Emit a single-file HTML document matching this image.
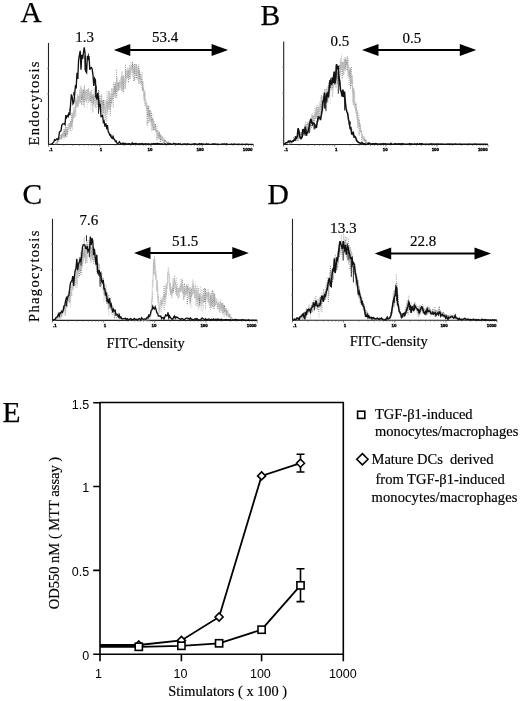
<!DOCTYPE html>
<html><head><meta charset="utf-8"><style>
html,body{margin:0;padding:0;background:#fff;width:520px;height:701px;overflow:hidden;}
svg{display:block;will-change:transform;}
text{fill:#000;}
.s{stroke:#000;stroke-width:0.18;}
</style></head><body>
<svg width="520" height="701" viewBox="0 0 520 701">
<path d="M48.5 43 V144.5 H253.5" fill="none" stroke="#222" stroke-width="1.1"/>
<path d="M48.5 144.5 v2.2 M63.9 144.5 v1.2 M73.0 144.5 v1.2 M79.4 144.5 v1.2 M84.3 144.5 v1.2 M88.4 144.5 v1.2 M91.8 144.5 v1.2 M94.8 144.5 v1.2 M97.4 144.5 v1.2 M99.8 144.5 v2.2 M115.2 144.5 v1.2 M124.2 144.5 v1.2 M130.6 144.5 v1.2 M135.6 144.5 v1.2 M139.6 144.5 v1.2 M143.1 144.5 v1.2 M146.0 144.5 v1.2 M148.7 144.5 v1.2 M151.0 144.5 v2.2 M166.4 144.5 v1.2 M175.5 144.5 v1.2 M181.9 144.5 v1.2 M186.8 144.5 v1.2 M190.9 144.5 v1.2 M194.3 144.5 v1.2 M197.3 144.5 v1.2 M199.9 144.5 v1.2 M202.2 144.5 v2.2 M217.7 144.5 v1.2 M226.7 144.5 v1.2 M233.1 144.5 v1.2 M238.1 144.5 v1.2 M242.1 144.5 v1.2 M245.6 144.5 v1.2 M248.5 144.5 v1.2 M251.2 144.5 v1.2 M253.5 144.5 v2.2" stroke="#555" stroke-width="0.8"/>
<path d="M47.0 68.4 h1.5 M47.0 93.8 h1.5 M47.0 119.1 h1.5" stroke="#888" stroke-width="0.8"/>
<text x="49.0" y="150.8" font-family="'Liberation Sans', sans-serif" font-weight="bold" font-size="4.4" text-anchor="start" fill="#000" stroke="#000" stroke-width="0.35">.1</text>
<text x="101.0" y="150.8" font-family="'Liberation Sans', sans-serif" font-weight="bold" font-size="4.4" text-anchor="middle" fill="#000" stroke="#000" stroke-width="0.35">1</text>
<text x="150.0" y="150.8" font-family="'Liberation Sans', sans-serif" font-weight="bold" font-size="4.4" text-anchor="middle" fill="#000" stroke="#000" stroke-width="0.35">10</text>
<text x="200.1" y="150.8" font-family="'Liberation Sans', sans-serif" font-weight="bold" font-size="4.4" text-anchor="middle" fill="#000" stroke="#000" stroke-width="0.35">100</text>
<text x="252.5" y="150.8" font-family="'Liberation Sans', sans-serif" font-weight="bold" font-size="4.4" text-anchor="end" fill="#000" stroke="#000" stroke-width="0.35">1000</text>
<path d="M55.2 144.0V144.6M56.3 142.8V143.4M57.1 142.0V142.6M57.9 140.9V143.3M58.6 139.1V141.5M59.3 138.7V140.5M61.4 135.6V139.0M62.1 134.7V136.9M62.0 134.4V138.1M62.7 134.5V136.9M64.3 130.6V135.2M64.0 129.1V134.3M64.8 132.7V136.2M65.4 124.5V136.2M66.9 127.2V137.1M72.3 117.2V123.0M73.3 113.2V117.8M74.5 110.1V114.7M75.9 100.5V106.5M76.6 103.4V105.1M77.2 100.6V106.7M78.9 96.2V103.8M81.6 92.2V99.2M81.6 95.0V104.8M82.5 92.0V98.1M83.1 95.3V105.2M82.9 92.4V100.8M83.6 89.9V100.4M83.8 90.4V101.7M85.9 92.6V99.8M88.6 88.6V96.0M89.9 95.3V101.5M90.5 93.9V102.2M92.0 96.9V98.3M92.6 95.3V106.0M93.4 94.3V104.0M96.3 97.8V101.0M97.8 95.5V106.4M98.3 99.1V101.4M98.5 90.0V101.8M99.8 96.0V107.2M101.3 94.5V111.8M103.1 101.3V113.8M103.4 99.9V112.8M108.2 103.1V105.0M108.8 91.4V110.3M108.8 101.4V107.2M109.6 97.3V103.4M110.3 98.1V115.6M111.0 93.8V103.8M112.3 94.2V99.4M114.6 86.8V94.8M115.3 83.9V98.0M116.0 86.3V91.1M117.9 83.0V86.5M118.1 85.7V88.9M121.7 81.3V90.8M122.1 78.8V84.1M123.1 75.9V91.4M123.1 77.1V89.6M127.7 71.2V76.5M128.4 70.6V82.6M129.1 70.8V72.6M129.1 71.6V76.5M129.9 65.5V79.9M132.5 61.9V69.8M134.1 67.7V72.4M134.7 64.3V73.4M136.2 64.4V78.1M138.5 66.2V73.7M139.6 71.5V79.2M142.5 81.9V89.9M143.1 87.9V91.4M144.6 92.4V100.9M147.2 107.9V125.5M148.2 107.2V123.5M148.9 106.2V114.9M149.4 110.8V116.5M150.3 110.4V119.1M151.5 112.9V122.7M152.5 119.3V126.2M153.8 125.0V130.5M155.1 124.6V129.2M155.6 124.1V132.0M157.1 130.5V140.0M158.7 133.2V138.6M160.2 134.6V141.8M160.1 135.9V138.3M160.7 136.5V141.1M164.3 139.8V143.0M164.9 140.6V141.5M165.4 140.6V142.0M167.5 142.0V143.3M168.5 142.3V143.8M174.0 144.1V144.7M173.9 143.9V144.5" stroke="#4a4a4a" stroke-width="0.8" stroke-dasharray="1 1.1" fill="none"/><path d="M55.7 143.1V143.7M56.6 142.8V143.4M57.0 140.1V143.9M59.8 137.4V138.9M60.8 135.1V138.6M62.5 135.3V136.3M64.8 131.1V134.9M65.5 127.7V138.2M66.4 128.9V133.7M66.7 129.9V135.0M67.5 129.2V135.3M68.2 124.9V133.4M69.0 123.5V128.7M69.7 122.9V126.5M69.9 125.6V126.7M70.3 121.3V130.9M70.6 121.7V125.0M71.7 114.7V126.3M71.9 112.8V127.2M75.1 107.0V116.5M78.0 95.6V100.9M80.9 96.2V98.4M81.1 88.2V98.7M84.4 86.7V107.9M85.0 91.3V94.7M87.2 89.6V99.5M87.9 90.8V99.7M89.2 92.6V100.2M90.2 93.8V99.2M91.4 95.3V103.8M91.3 93.4V102.2M92.8 96.5V98.5M93.5 97.4V104.0M94.8 95.7V102.6M96.2 91.1V100.0M96.9 96.2V104.6M97.8 99.0V105.3M99.0 90.8V109.5M99.8 101.0V110.0M100.5 100.5V112.6M101.4 100.4V104.5M102.7 100.7V108.9M104.0 107.1V108.6M104.1 103.9V114.4M106.8 101.4V121.8M107.3 97.3V107.2M107.7 102.7V113.7M110.2 98.0V109.5M111.8 97.2V103.8M113.2 89.6V107.3M113.1 93.6V98.9M114.0 83.9V93.4M113.9 82.3V95.6M115.4 85.2V92.0M116.0 82.6V93.8M116.6 69.8V98.8M118.5 83.2V91.2M118.7 82.1V90.8M121.0 76.7V85.2M122.3 77.5V86.0M123.7 78.3V93.1M125.6 71.3V78.4M125.5 64.8V88.0M127.7 72.8V79.0M132.1 63.2V74.1M133.6 65.2V82.0M134.1 69.2V82.1M134.7 64.5V80.4M136.3 65.3V75.7M138.4 69.8V84.0M139.5 69.8V80.0M140.4 74.1V80.6M141.0 74.5V83.8M142.0 72.3V90.5M141.8 79.0V84.9M144.0 93.1V97.8M147.3 105.6V115.6M149.5 114.0V121.7M151.0 116.7V121.1M152.3 119.3V124.1M153.1 118.2V129.5M153.8 121.5V129.1M154.4 126.9V130.1M156.5 130.8V132.5M158.0 130.3V136.1M159.4 133.0V136.8M159.4 132.1V138.6M160.9 134.7V139.4M161.4 137.3V138.7M162.6 137.6V141.8M164.1 139.4V143.0M164.8 141.0V141.6M165.6 140.5V142.3M166.8 142.1V142.7M167.2 141.6V142.5M169.1 142.9V143.5M169.2 142.7V143.6M169.6 142.6V144.0M169.8 143.2V143.8M170.3 143.4V144.3M171.1 143.3V144.3M171.8 143.7V144.3M172.4 143.4V144.3M174.8 144.1V144.7M174.5 143.8V144.4" stroke="#7e7e7e" stroke-width="0.8" stroke-dasharray="1 1.1" fill="none"/><path d="M55.0 143.8V144.4M55.7 143.3V143.9M57.6 141.0V143.7M58.4 140.4V141.0M59.1 138.9V141.1M60.0 138.8V139.4M60.7 137.7V139.0M61.4 136.5V140.7M63.5 134.3V134.9M63.5 133.0V137.4M66.2 130.4V132.8M67.6 128.4V132.1M71.2 122.2V127.5M70.9 122.0V131.5M72.5 113.8V129.7M73.2 107.3V122.1M73.8 113.3V115.3M75.5 106.3V110.6M76.0 98.1V116.6M76.6 100.6V105.7M77.3 99.4V106.8M78.1 100.4V105.9M78.6 96.5V101.5M79.6 89.8V102.2M79.4 97.1V101.4M80.0 93.2V103.3M82.1 91.3V97.7M84.3 88.0V98.3M85.0 91.4V102.0M85.8 90.4V94.7M86.4 89.9V98.4M86.5 90.1V99.3M90.8 91.8V110.0M92.2 95.4V103.0M94.1 96.1V100.3M94.0 87.4V103.2M95.1 89.1V98.4M95.7 97.9V107.7M95.8 97.0V98.4M96.8 97.3V102.2M99.1 95.9V106.6M100.5 102.0V107.6M102.0 102.2V106.7M101.9 96.0V112.2M102.7 101.4V111.8M104.6 104.2V119.8M105.6 106.7V119.6M105.5 108.4V120.1M106.0 102.6V108.9M107.0 90.8V108.0M109.7 99.3V104.8M111.6 88.6V106.8M114.7 87.2V92.7M116.5 78.9V90.3M117.4 83.6V91.6M117.3 81.1V96.3M119.5 80.3V89.8M119.3 83.0V87.8M120.2 82.4V90.2M119.9 82.8V87.4M120.9 78.3V86.3M124.5 78.9V88.7M125.1 70.0V82.7M126.3 76.0V82.6M126.5 70.3V76.7M127.2 75.2V76.6M127.3 72.1V76.6M128.6 72.4V80.8M130.0 68.7V75.0M130.5 68.0V71.7M131.2 65.0V69.1M131.1 65.4V71.9M132.1 67.9V76.9M132.6 67.3V73.4M135.7 68.9V77.5M136.7 66.9V79.5M136.8 71.2V79.7M137.7 71.3V72.9M137.6 68.7V81.4M138.9 70.6V79.4M139.0 63.7V78.6M140.3 76.8V81.9M142.5 85.3V91.4M143.3 88.0V91.8M143.7 84.9V100.5M144.6 90.2V106.5M145.2 99.9V102.8M146.0 100.3V107.7M146.6 103.5V110.0M146.7 103.4V108.4M148.2 105.1V116.9M148.9 112.9V116.8M150.3 117.4V121.9M150.9 110.9V125.1M151.5 120.1V126.1M153.0 114.4V129.7M155.6 127.7V131.3M157.0 126.2V139.3M157.8 132.8V138.3M158.8 131.3V139.8M162.1 138.4V140.4M162.2 139.1V141.3M162.7 138.9V140.7M163.7 139.9V141.3M163.3 137.7V142.9M166.4 141.5V143.8M166.5 141.9V142.8M168.5 141.6V143.6M170.6 143.3V144.1M171.3 142.9V143.9M171.8 142.9V143.8M172.7 143.9V144.5M173.3 144.0V144.6" stroke="#a8a8a8" stroke-width="0.8" stroke-dasharray="1 1.1" fill="none"/><path d="M68.4 124.5V129.9M69.1 124.4V130.9M73.8 107.9V116.2M74.8 108.3V117.5M80.3 96.5V101.4M87.3 91.8V107.8M88.0 89.2V103.7M88.6 95.1V96.6M89.4 95.0V97.4M104.6 108.5V109.8M106.1 106.6V109.1M108.2 93.9V105.4M110.9 95.3V99.3M112.3 95.3V99.6M121.7 76.4V84.1M123.7 78.8V88.8M124.4 76.1V84.8M125.2 78.5V86.6M130.5 62.4V72.3M133.3 67.9V79.2M135.5 70.1V75.8M140.9 75.8V85.6M145.3 98.7V106.3M146.1 102.8V108.4M154.3 126.3V127.6M155.2 125.3V130.3M156.4 131.4V132.9M161.3 137.6V139.1M167.9 142.7V144.3M173.2 143.3V144.3" stroke="#cccccc" stroke-width="0.8" stroke-dasharray="1 1.1" fill="none"/><path d="M55.0 143.8 L55.5 143.0 L56.0 143.0 L56.5 144.2 L57.0 141.9 L57.5 141.3 L58.0 140.2 L58.5 139.7 L59.0 138.1 L59.5 137.5 L60.0 138.7 L60.5 136.7 L61.0 134.2 L61.5 134.9 L62.0 135.6 L62.5 132.7 L63.0 138.1 L63.5 131.5 L64.0 134.4 L64.5 138.4 L65.0 131.6 L65.5 128.1 L66.0 133.1 L66.5 130.5 L67.0 129.1 L67.5 130.1 L68.0 128.6 L68.5 127.3 L69.0 128.4 L69.5 124.2 L70.0 128.5 L70.5 127.7 L71.0 122.4 L71.5 119.8 L72.0 121.1 L72.5 117.9 L73.0 114.7 L73.5 111.2 L74.0 117.9 L74.5 111.0 L75.0 113.1 L75.5 97.0 L76.0 107.9 L76.5 106.3 L77.0 103.9 L77.5 94.0 L78.0 107.5 L78.5 103.3 L79.0 102.2 L79.5 96.9 L80.0 90.8 L80.5 103.0 L81.0 85.8 L81.5 96.9 L82.0 96.0 L82.5 89.2 L83.0 101.5 L83.5 92.8 L84.0 98.8 L84.5 85.0 L85.0 97.7 L85.5 98.0 L86.0 102.2 L86.5 102.5 L87.0 89.4 L87.5 90.5 L88.0 94.9 L88.5 103.1 L89.0 101.6 L89.5 94.2 L90.0 91.5 L90.5 91.3 L91.0 95.3 L91.5 89.7 L92.0 96.2 L92.5 112.5 L93.0 111.7 L93.5 104.4 L94.0 102.1 L94.5 97.6 L95.0 106.7 L95.5 97.6 L96.0 108.1 L96.5 98.2 L97.0 99.7 L97.5 93.4 L98.0 98.6 L98.5 96.7 L99.0 108.6 L99.5 109.1 L100.0 103.9 L100.5 106.4 L101.0 103.2 L101.5 105.0 L102.0 105.9 L102.5 113.9 L103.0 105.4 L103.5 111.3 L104.0 106.5 L104.5 106.0 L105.0 100.1 L105.5 116.1 L106.0 106.5 L106.5 100.5 L107.0 111.2 L107.5 109.1 L108.0 101.2 L108.5 101.5 L109.0 107.7 L109.5 91.2 L110.0 100.4 L110.5 98.9 L111.0 99.1 L111.5 101.1 L112.0 87.8 L112.5 99.2 L113.0 91.4 L113.5 89.3 L114.0 96.9 L114.5 90.9 L115.0 90.1 L115.5 82.4 L116.0 89.6 L116.5 88.5 L117.0 76.8 L117.5 91.4 L118.0 91.2 L118.5 87.1 L119.0 84.6 L119.5 81.7 L120.0 82.3 L120.5 83.4 L121.0 88.1 L121.5 77.8 L122.0 71.3 L122.5 89.3 L123.0 75.1 L123.5 79.7 L124.0 80.9 L124.5 83.5 L125.0 81.1 L125.5 89.2 L126.0 76.5 L126.5 79.3 L127.0 71.7 L127.5 67.8 L128.0 75.8 L128.5 73.4 L129.0 67.8 L129.5 73.1 L130.0 78.9 L130.5 75.8 L131.0 67.0 L131.5 67.0 L132.0 67.0 L132.5 68.9 L133.0 72.8 L133.5 73.0 L134.0 71.4 L134.5 67.0 L135.0 69.9 L135.5 67.0 L136.0 67.0 L136.5 70.1 L137.0 67.0 L137.5 67.0 L138.0 77.6 L138.5 75.1 L139.0 83.2 L139.5 84.0 L140.0 79.7 L140.5 82.5 L141.0 82.3 L141.5 83.1 L142.0 82.4 L142.5 88.3 L143.0 80.9 L143.5 94.4 L144.0 95.3 L144.5 99.3 L145.0 91.7 L145.5 105.1 L146.0 101.8 L146.5 108.6 L147.0 110.8 L147.5 113.9 L148.0 111.4 L148.5 108.8 L149.0 113.9 L149.5 119.1 L150.0 120.8 L150.5 115.5 L151.0 117.8 L151.5 128.6 L152.0 131.2 L152.5 121.2 L153.0 126.9 L153.5 127.0 L154.0 121.4 L154.5 125.8 L155.0 127.9 L155.5 126.9 L156.0 127.4 L156.5 131.5 L157.0 133.9 L157.5 136.9 L158.0 132.2 L158.5 133.8 L159.0 137.4 L159.5 137.2 L160.0 138.2 L160.5 136.5 L161.0 138.5 L161.5 136.4 L162.0 141.6 L162.5 135.9 L163.0 138.3 L163.5 140.9 L164.0 141.8 L164.5 142.1 L165.0 140.6 L165.5 141.3 L166.0 142.0 L166.5 142.8 L167.0 142.3 L167.5 142.9 L168.0 143.3 L168.5 142.1 L169.0 142.1 L169.5 143.5 L170.0 143.0 L170.5 143.8 L171.0 143.3 L171.5 144.3 L172.0 143.7 L172.5 143.7 L173.0 144.0 L173.5 144.2 L174.0 144.1 L174.5 144.2 L175.0 144.3" fill="none" stroke="#bdbdbd" stroke-width="0.6"/><path d="M49.0 144.3 L49.8 144.3 L50.6 144.3 L51.4 143.9 L52.2 143.9 L53.0 142.7 L53.8 141.9 L54.6 139.7 L55.4 140.4 L56.2 139.4 L57.0 138.7 L57.8 139.7 L58.6 138.7 L59.4 132.2 L60.2 131.3 L61.0 130.8 L61.8 125.2 L62.6 123.8 L63.4 123.8 L64.2 123.6 L65.0 124.6 L65.8 115.4 L66.6 117.3 L67.4 115.5 L68.2 116.5 L69.0 112.5 L69.8 115.1 L70.6 103.8 L71.4 94.4 L72.2 97.2 L73.0 103.8 L73.8 102.3 L74.6 94.9 L75.4 86.4 L76.2 87.3 L77.0 72.7 L77.8 79.0 L78.6 59.8 L79.4 55.1 L80.2 50.9 L81.0 69.6 L81.8 54.9 L82.6 58.8 L83.4 53.2 L84.2 47.3 L85.0 52.5 L85.8 71.4 L86.6 72.6 L87.4 55.8 L88.2 60.1 L89.0 56.0 L89.8 69.7 L90.6 67.7 L91.4 67.5 L92.2 69.3 L93.0 75.3 L93.8 86.0 L94.6 78.5 L95.4 79.9 L96.2 96.1 L97.0 99.6 L97.8 92.8 L98.6 99.1 L99.4 107.2 L100.2 103.8 L101.0 116.6 L101.8 116.4 L102.6 115.4 L103.4 122.3 L104.2 121.3 L105.0 126.6 L105.8 123.4 L106.6 127.5 L107.4 125.1 L108.2 131.5 L109.0 133.1 L109.8 135.0 L110.6 134.6 L111.4 137.2 L112.2 138.3 L113.0 136.4 L113.8 138.8 L114.6 139.7 L115.4 141.5 L116.2 141.0 L117.0 143.2 L117.8 143.5 L118.6 143.1 L119.4 141.8 L120.2 143.0 L121.0 143.7 L121.8 143.6 L122.6 143.2 L123.4 143.1 L124.2 144.3 L125.0 143.3 L125.8 143.5 L126.6 144.1 L127.4 143.9 L128.2 143.7 L129.0 143.9 L129.8 143.8 L130.6 144.2 L131.4 144.3 L132.2 142.9 L133.0 143.8 L133.8 143.7 L134.6 143.7 L135.4 143.4 L136.2 143.5 L137.0 144.2 L137.8 143.9 L138.6 143.8 L139.4 143.6 L140.2 144.1 L141.0 143.7 L141.8 143.8 L142.6 143.5 L143.4 144.3 L144.2 143.8 L145.0 143.8 L145.8 143.7 L146.6 143.9 L147.4 144.2 L148.2 143.7 L149.0 143.8 L149.8 144.2 L150.6 144.3 L151.4 143.7 L152.2 144.2 L153.0 143.7 L153.8 143.4 L154.6 143.9 L155.4 143.8 L156.2 143.9 L157.0 143.5 L157.8 143.5 L158.6 143.9 L159.4 143.7 L160.2 143.9 L161.0 144.1 L161.8 143.7 L162.6 144.0 L163.4 144.2 L164.2 144.3 L165.0 143.7 L165.8 144.3 L166.6 144.3 L167.4 144.0 L168.2 143.8 L169.0 144.3 L169.8 143.8 L170.6 143.9 L171.4 144.3 L172.2 144.3 L173.0 144.1 L173.8 143.4 L174.6 144.0 L175.4 143.7 L176.2 143.8 L177.0 144.3 L177.8 144.0 L178.6 143.8 L179.4 144.1 L180.2 143.7 L181.0 144.3 L181.8 144.3 L182.6 144.2 L183.4 143.9 L184.2 144.1 L185.0 143.8 L185.8 144.3 L186.6 144.2 L187.4 143.7 L188.2 144.3 L189.0 144.0 L189.8 144.3 L190.6 144.3 L191.4 144.1 L192.2 144.3 L193.0 143.9 L193.8 143.9 L194.6 143.8 L195.4 144.0 L196.2 144.3 L197.0 143.9 L197.8 144.3 L198.6 144.3 L199.4 143.6 L200.2 143.9 L201.0 144.0 L201.8 143.8 L202.6 144.2 L203.4 144.0 L204.2 144.3 L205.0 144.2 L205.8 144.1 L206.6 143.8 L207.4 144.3 L208.2 143.9 L209.0 144.1 L209.8 144.3 L210.6 144.3 L211.4 144.3 L212.2 143.9 L213.0 144.1 L213.8 143.8 L214.6 144.1 L215.4 143.9 L216.2 144.1 L217.0 144.3 L217.8 144.0 L218.6 144.3 L219.4 144.3 L220.2 144.3 L221.0 144.2 L221.8 144.1 L222.6 144.0 L223.4 144.1 L224.2 143.8 L225.0 144.3 L225.8 144.2 L226.6 143.8 L227.4 144.2 L228.2 144.3 L229.0 144.3 L229.8 144.3 L230.6 144.3 L231.4 144.0 L232.2 144.3 L233.0 144.3 L233.8 144.0 L234.6 144.2 L235.4 144.2 L236.2 144.3 L237.0 144.1 L237.8 144.3 L238.6 144.1 L239.4 144.2 L240.2 144.3 L241.0 144.3 L241.8 144.2 L242.6 144.2 L243.4 144.3 L244.2 144.3 L245.0 144.3 L245.8 144.2 L246.6 144.2 L247.4 144.2 L248.2 144.3 L249.0 144.3 L249.8 144.3 L250.6 144.3 L251.4 144.3 L252.2 144.3 L253.0 144.3" fill="none" stroke="#111" stroke-width="1.35"/><path d="M65.6 115.3V118.8M69.7 109.3V110.9M73.7 91.8V95.6M84.9 55.6V70.2M88.4 53.5V59.5M93.7 79.0V81.1M95.4 87.7V97.6M96.3 85.6V91.6M98.5 100.7V113.8M100.3 107.5V112.1M110.6 135.1V137.3" stroke="#151515" stroke-width="0.9" fill="none"/>
<path d="M283.7 41.5 V144.5 H488" fill="none" stroke="#222" stroke-width="1.1"/>
<path d="M283.7 144.5 v2.2 M299.1 144.5 v1.2 M308.1 144.5 v1.2 M314.5 144.5 v1.2 M319.4 144.5 v1.2 M323.4 144.5 v1.2 M326.9 144.5 v1.2 M329.8 144.5 v1.2 M332.4 144.5 v1.2 M334.8 144.5 v2.2 M350.2 144.5 v1.2 M359.1 144.5 v1.2 M365.5 144.5 v1.2 M370.5 144.5 v1.2 M374.5 144.5 v1.2 M377.9 144.5 v1.2 M380.9 144.5 v1.2 M383.5 144.5 v1.2 M385.9 144.5 v2.2 M401.2 144.5 v1.2 M410.2 144.5 v1.2 M416.6 144.5 v1.2 M421.5 144.5 v1.2 M425.6 144.5 v1.2 M429.0 144.5 v1.2 M432.0 144.5 v1.2 M434.6 144.5 v1.2 M436.9 144.5 v2.2 M452.3 144.5 v1.2 M461.3 144.5 v1.2 M467.7 144.5 v1.2 M472.6 144.5 v1.2 M476.7 144.5 v1.2 M480.1 144.5 v1.2 M483.1 144.5 v1.2 M485.7 144.5 v1.2 M488.0 144.5 v2.2" stroke="#555" stroke-width="0.8"/>
<path d="M282.2 67.2 h1.5 M282.2 93.0 h1.5 M282.2 118.8 h1.5" stroke="#888" stroke-width="0.8"/>
<text x="284.2" y="150.8" font-family="'Liberation Sans', sans-serif" font-weight="bold" font-size="4.4" text-anchor="start" fill="#000" stroke="#000" stroke-width="0.35">.1</text>
<text x="336.2" y="150.8" font-family="'Liberation Sans', sans-serif" font-weight="bold" font-size="4.4" text-anchor="middle" fill="#000" stroke="#000" stroke-width="0.35">1</text>
<text x="385.2" y="150.8" font-family="'Liberation Sans', sans-serif" font-weight="bold" font-size="4.4" text-anchor="middle" fill="#000" stroke="#000" stroke-width="0.35">10</text>
<text x="435.3" y="150.8" font-family="'Liberation Sans', sans-serif" font-weight="bold" font-size="4.4" text-anchor="middle" fill="#000" stroke="#000" stroke-width="0.35">100</text>
<text x="487.7" y="150.8" font-family="'Liberation Sans', sans-serif" font-weight="bold" font-size="4.4" text-anchor="end" fill="#000" stroke="#000" stroke-width="0.35">1000</text>
<path d="M288.8 143.9V144.5M291.3 141.1V143.7M294.6 139.3V140.6M296.1 138.1V139.9M297.4 137.1V138.2M298.1 134.7V138.2M298.1 135.6V141.4M301.7 131.8V136.7M302.3 129.8V138.1M303.7 131.0V135.7M304.2 130.5V136.3M305.2 126.2V134.1M305.2 124.6V133.5M307.4 122.4V128.6M307.9 123.9V129.2M309.9 122.3V125.4M311.5 120.7V127.5M311.5 118.8V127.4M311.9 114.8V124.4M314.2 115.9V129.5M314.3 115.8V120.0M316.4 107.6V117.1M318.4 110.5V115.4M320.7 104.2V107.6M321.8 96.3V104.7M321.8 103.9V107.5M324.7 89.5V99.1M325.6 94.9V101.2M325.5 96.2V102.5M326.2 89.1V97.6M326.2 94.0V104.4M326.6 94.0V96.0M328.2 86.7V98.7M329.4 87.4V91.5M329.8 87.3V90.6M331.2 84.8V86.2M332.4 80.5V89.5M333.1 75.5V82.0M333.0 78.3V89.0M336.5 70.8V78.9M336.7 74.2V79.1M337.2 72.6V79.1M337.5 71.5V84.1M339.2 65.3V68.3M339.4 65.8V69.1M340.8 58.4V71.9M342.3 62.6V78.8M345.2 57.4V66.8M345.7 59.8V70.7M346.3 62.7V64.6M346.9 62.3V65.0M347.2 56.4V70.0M349.1 70.9V73.5M349.7 70.0V77.9M350.5 75.4V77.0M350.5 68.6V89.1M351.3 67.1V82.2M352.2 79.9V84.0M352.6 87.4V90.8M353.3 88.8V105.4M354.0 91.4V97.9M355.5 104.0V108.8M356.2 103.6V113.0M359.1 119.9V135.4M364.6 139.7V140.8M365.3 140.3V143.3M365.5 139.9V142.1M366.8 142.4V143.9M367.5 142.8V143.4M368.3 142.1V143.3" stroke="#4a4a4a" stroke-width="0.8" stroke-dasharray="1 1.1" fill="none"/><path d="M289.6 143.5V144.1M289.8 143.5V144.1M290.3 142.7V143.4M291.2 141.6V143.0M292.4 140.6V142.3M293.4 140.4V142.3M293.8 137.0V140.5M294.8 136.0V141.5M296.6 137.4V140.2M296.7 136.5V138.1M297.6 135.5V140.9M299.5 135.3V137.6M299.6 133.7V137.7M300.3 133.3V135.1M300.7 132.1V136.0M303.0 130.2V134.9M303.6 130.9V132.7M306.0 126.7V132.1M306.4 124.1V135.7M307.3 126.7V136.7M308.5 123.1V129.1M308.4 123.8V129.7M310.6 120.0V131.3M312.7 115.9V124.6M313.5 116.1V127.9M313.3 115.8V124.2M315.0 111.5V117.5M315.6 113.0V118.8M316.2 112.6V117.1M317.1 105.1V116.2M317.9 107.0V119.4M319.1 108.8V115.9M321.4 95.2V106.4M322.8 100.8V107.1M323.9 97.5V106.1M327.6 90.8V100.9M330.2 84.5V89.2M331.0 83.1V86.7M331.6 78.2V88.0M333.7 75.8V82.3M342.2 62.3V67.5M343.6 63.4V75.0M344.2 58.9V70.0M345.6 62.3V68.5M346.4 60.4V63.1M347.9 57.9V75.8M349.1 67.3V85.2M351.2 76.6V86.1M352.1 83.1V87.5M356.4 109.2V110.3M357.7 110.5V122.8M357.8 112.9V120.7M359.7 123.1V125.9M360.5 125.9V131.2M361.0 131.3V132.2M361.0 130.9V132.0M361.7 130.6V143.9M364.0 136.6V140.0M364.6 138.4V141.4M365.9 141.5V143.5M366.2 139.8V143.2M367.5 142.7V143.3M368.8 143.3V143.9M369.5 143.7V144.3M370.1 143.8V144.4M370.8 144.1V144.7M371.0 144.1V144.7" stroke="#7e7e7e" stroke-width="0.8" stroke-dasharray="1 1.1" fill="none"/><path d="M288.8 144.3V144.9M290.5 142.5V143.1M291.8 140.8V142.5M291.8 141.6V142.7M292.5 140.9V143.4M293.2 138.5V142.2M293.7 139.2V140.3M295.3 138.9V140.3M295.3 136.9V140.6M296.1 137.6V138.9M298.9 133.8V137.0M298.6 135.6V138.6M300.4 133.5V139.0M300.8 134.1V135.9M301.4 133.1V135.0M302.5 131.6V133.2M303.2 130.0V133.2M304.5 127.9V135.3M305.6 121.6V130.9M306.5 126.3V133.2M309.3 122.8V128.3M310.5 120.4V125.0M312.0 116.8V124.6M312.7 113.2V125.4M314.9 107.8V121.6M315.6 109.3V119.0M317.1 112.9V115.9M317.5 109.0V114.9M318.2 107.4V111.7M319.2 109.5V115.7M319.8 102.3V110.7M319.8 102.4V117.0M320.7 106.1V108.9M321.4 100.0V113.4M322.6 100.2V113.5M323.1 99.0V111.8M323.8 96.3V107.5M324.7 94.3V101.2M326.8 93.1V99.9M328.1 86.9V102.7M328.7 82.9V99.9M328.7 82.6V97.4M331.7 78.7V88.5M332.4 78.5V83.6M333.6 76.6V86.2M334.6 75.6V84.9M334.7 77.7V82.4M335.1 75.6V85.2M335.3 72.3V80.2M336.0 75.0V85.3M335.8 69.5V83.0M337.8 68.1V74.6M338.8 66.6V69.9M338.5 68.0V73.2M340.2 62.1V67.7M340.2 65.9V69.3M340.9 62.0V73.6M341.5 55.8V69.1M342.9 62.9V74.2M342.9 62.0V72.4M343.8 62.5V66.8M344.2 59.9V74.8M344.9 62.2V70.4M347.9 59.8V67.0M348.5 65.3V73.7M349.9 73.0V81.6M352.7 85.9V94.4M353.3 91.5V93.2M354.1 91.7V105.9M354.6 94.1V107.7M355.5 102.2V111.4M356.9 113.9V120.1M358.4 117.3V125.6M358.1 118.4V127.9M359.1 115.3V125.5M359.8 124.1V134.3M360.2 125.1V129.7M362.0 133.6V140.2M362.4 136.1V138.3M362.5 134.1V137.8M363.1 137.9V141.1M363.2 136.3V138.7M363.9 137.5V140.7M366.7 142.1V142.7M368.3 143.0V143.6M368.8 142.9V144.2M369.4 143.6V144.3" stroke="#a8a8a8" stroke-width="0.8" stroke-dasharray="1 1.1" fill="none"/><path d="M308.1 121.9V134.4M309.2 121.1V128.3M310.0 124.4V129.3M323.2 100.0V108.0M327.3 88.0V96.9M330.3 86.4V104.7M338.1 70.9V75.1M341.5 53.8V66.8M348.4 67.7V78.5M354.8 98.7V107.1M357.0 112.3V121.2M370.2 143.8V144.4" stroke="#cccccc" stroke-width="0.8" stroke-dasharray="1 1.1" fill="none"/><path d="M289.0 144.3 L289.5 143.8 L290.0 143.6 L290.5 143.3 L291.0 141.9 L291.5 141.5 L292.0 141.9 L292.5 142.9 L293.0 140.6 L293.5 139.6 L294.0 137.6 L294.5 140.2 L295.0 138.5 L295.5 139.6 L296.0 141.7 L296.5 139.3 L297.0 137.2 L297.5 138.3 L298.0 133.8 L298.5 134.9 L299.0 135.0 L299.5 134.3 L300.0 135.8 L300.5 132.4 L301.0 133.9 L301.5 133.8 L302.0 134.7 L302.5 132.8 L303.0 131.4 L303.5 131.8 L304.0 129.0 L304.5 126.8 L305.0 130.0 L305.5 132.3 L306.0 129.8 L306.5 129.1 L307.0 124.1 L307.5 127.9 L308.0 128.9 L308.5 125.9 L309.0 129.0 L309.5 125.4 L310.0 123.7 L310.5 129.4 L311.0 123.0 L311.5 123.7 L312.0 119.0 L312.5 119.1 L313.0 115.6 L313.5 117.4 L314.0 120.1 L314.5 114.2 L315.0 114.0 L315.5 119.2 L316.0 112.6 L316.5 118.7 L317.0 110.0 L317.5 116.9 L318.0 112.1 L318.5 106.3 L319.0 109.2 L319.5 107.1 L320.0 106.9 L320.5 113.0 L321.0 96.9 L321.5 104.7 L322.0 99.9 L322.5 103.0 L323.0 96.5 L323.5 99.1 L324.0 106.5 L324.5 96.1 L325.0 109.3 L325.5 93.1 L326.0 103.9 L326.5 90.3 L327.0 91.6 L327.5 94.5 L328.0 92.2 L328.5 94.2 L329.0 93.2 L329.5 93.3 L330.0 88.6 L330.5 79.4 L331.0 90.1 L331.5 85.9 L332.0 88.9 L332.5 97.0 L333.0 91.6 L333.5 78.5 L334.0 74.7 L334.5 73.7 L335.0 73.8 L335.5 65.7 L336.0 88.0 L336.5 69.2 L337.0 84.3 L337.5 72.6 L338.0 73.2 L338.5 67.1 L339.0 69.2 L339.5 70.2 L340.0 76.5 L340.5 70.8 L341.0 61.5 L341.5 65.9 L342.0 64.1 L342.5 63.9 L343.0 70.3 L343.5 63.4 L344.0 70.5 L344.5 69.0 L345.0 64.8 L345.5 61.5 L346.0 61.5 L346.5 61.5 L347.0 65.6 L347.5 64.7 L348.0 71.8 L348.5 76.4 L349.0 70.9 L349.5 72.0 L350.0 69.1 L350.5 81.2 L351.0 76.5 L351.5 82.3 L352.0 80.9 L352.5 75.4 L353.0 102.5 L353.5 88.1 L354.0 89.3 L354.5 105.8 L355.0 104.5 L355.5 110.7 L356.0 105.9 L356.5 116.2 L357.0 111.2 L357.5 121.6 L358.0 128.1 L358.5 119.3 L359.0 124.6 L359.5 123.0 L360.0 124.5 L360.5 128.0 L361.0 130.5 L361.5 133.3 L362.0 136.0 L362.5 137.5 L363.0 138.9 L363.5 138.3 L364.0 140.7 L364.5 140.8 L365.0 142.2 L365.5 139.5 L366.0 141.9 L366.5 142.0 L367.0 141.7 L367.5 142.4 L368.0 143.2 L368.5 143.3 L369.0 142.1 L369.5 144.1 L370.0 144.1 L370.5 143.9 L371.0 144.3" fill="none" stroke="#bdbdbd" stroke-width="0.6"/><path d="M284.5 144.3 L285.3 143.4 L286.1 142.7 L286.9 142.7 L287.7 142.3 L288.5 141.2 L289.3 141.9 L290.1 140.9 L290.9 141.6 L291.7 141.9 L292.5 141.1 L293.3 141.2 L294.1 139.9 L294.9 140.1 L295.7 137.2 L296.5 137.7 L297.3 136.5 L298.1 128.3 L298.9 131.0 L299.7 135.7 L300.5 138.4 L301.3 138.1 L302.1 137.0 L302.9 129.0 L303.7 131.3 L304.5 132.6 L305.3 126.7 L306.1 135.6 L306.9 132.8 L307.7 132.4 L308.5 129.9 L309.3 126.2 L310.1 121.6 L310.9 118.8 L311.7 122.7 L312.5 123.1 L313.3 123.1 L314.1 123.9 L314.9 125.1 L315.7 127.4 L316.5 127.1 L317.3 121.4 L318.1 118.6 L318.9 117.0 L319.7 117.4 L320.5 120.1 L321.3 115.0 L322.1 110.4 L322.9 102.2 L323.7 99.8 L324.5 92.5 L325.3 100.9 L326.1 100.7 L326.9 93.8 L327.7 92.9 L328.5 97.3 L329.3 86.6 L330.1 80.1 L330.9 82.3 L331.7 84.7 L332.5 77.4 L333.3 82.8 L334.1 71.6 L334.9 83.4 L335.7 78.8 L336.5 64.3 L337.3 67.6 L338.1 65.8 L338.9 76.5 L339.7 81.5 L340.5 90.0 L341.3 92.0 L342.1 96.7 L342.9 89.5 L343.7 97.2 L344.5 91.6 L345.3 102.3 L346.1 108.7 L346.9 111.8 L347.7 113.5 L348.5 119.7 L349.3 122.2 L350.1 128.3 L350.9 127.9 L351.7 133.9 L352.5 133.8 L353.3 132.8 L354.1 137.0 L354.9 136.5 L355.7 137.7 L356.5 140.2 L357.3 141.5 L358.1 142.0 L358.9 142.8 L359.7 142.8 L360.5 143.4 L361.3 143.1 L362.1 142.7 L362.9 143.5 L363.7 144.3 L364.5 143.8 L365.3 144.1 L366.1 144.2 L366.9 144.2 L367.7 144.1 L368.5 143.2 L369.3 143.2 L370.1 143.6 L370.9 144.3 L371.7 144.0 L372.5 143.8 L373.3 144.1 L374.1 143.9 L374.9 143.7 L375.7 143.6 L376.5 143.9 L377.3 144.0 L378.1 144.1 L378.9 144.2 L379.7 144.0 L380.5 144.1 L381.3 143.9 L382.1 144.0 L382.9 144.1 L383.7 143.7 L384.5 144.2 L385.3 143.9 L386.1 144.0 L386.9 144.2 L387.7 144.1 L388.5 144.0 L389.3 144.2 L390.1 144.3 L390.9 143.5 L391.7 144.3 L392.5 144.2 L393.3 144.2 L394.1 144.1 L394.9 143.9 L395.7 143.9 L396.5 144.2 L397.3 144.0 L398.1 143.9 L398.9 144.2 L399.7 143.9 L400.5 144.1 L401.3 143.9 L402.1 144.3 L402.9 143.7 L403.7 144.1 L404.5 144.3 L405.3 144.3 L406.1 144.3 L406.9 144.1 L407.7 144.3 L408.5 144.3 L409.3 143.9 L410.1 143.8 L410.9 144.3 L411.7 144.1 L412.5 144.1 L413.3 144.2 L414.1 144.2 L414.9 143.9 L415.7 144.2 L416.5 144.1 L417.3 143.9 L418.1 144.3 L418.9 144.3 L419.7 143.7 L420.5 144.3 L421.3 143.9 L422.1 143.9 L422.9 144.1 L423.7 144.2 L424.5 144.2 L425.3 144.3 L426.1 144.1 L426.9 144.2 L427.7 144.2 L428.5 144.2 L429.3 144.0 L430.1 144.1 L430.9 144.2 L431.7 143.8 L432.5 144.2 L433.3 144.0 L434.1 144.3 L434.9 144.3 L435.7 144.1 L436.5 144.0 L437.3 144.3 L438.1 144.0 L438.9 144.0 L439.7 144.2 L440.5 144.1 L441.3 144.3 L442.1 144.1 L442.9 144.3 L443.7 144.2 L444.5 144.3 L445.3 144.2 L446.1 144.3 L446.9 144.2 L447.7 144.1 L448.5 144.0 L449.3 144.3 L450.1 144.1 L450.9 144.3 L451.7 144.1 L452.5 144.3 L453.3 144.3 L454.1 144.3 L454.9 144.0 L455.7 144.0 L456.5 144.2 L457.3 144.2 L458.1 144.2 L458.9 144.3 L459.7 144.0 L460.5 144.3 L461.3 144.3 L462.1 144.3 L462.9 144.3 L463.7 144.2 L464.5 144.2 L465.3 144.3 L466.1 144.2 L466.9 144.3 L467.7 144.3 L468.5 144.3 L469.3 144.0 L470.1 144.3 L470.9 144.3 L471.7 144.3 L472.5 144.3 L473.3 144.2 L474.1 144.3 L474.9 144.1 L475.7 144.1 L476.5 144.2 L477.3 144.2 L478.1 144.2 L478.9 144.3 L479.7 144.3 L480.5 144.3 L481.3 144.2 L482.1 144.3 L482.9 144.3 L483.7 144.2 L484.5 144.3 L485.3 144.3 L486.1 144.3 L486.9 144.3 L487.7 144.3" fill="none" stroke="#111" stroke-width="1.6"/><path d="M295.0 139.5V140.7M295.8 138.3V139.5M296.6 137.2V139.3M298.0 128.8V131.2M301.3 137.4V139.5M302.1 134.0V135.2M303.1 133.0V134.8M303.7 130.8V132.2M305.9 129.9V131.1M306.7 129.6V131.5M307.6 131.9V134.1M309.3 128.2V133.1M310.1 125.1V126.1M311.8 121.1V123.6M312.5 123.1V126.1M314.2 122.9V129.3M315.0 124.0V128.7M317.9 116.1V121.8M322.7 100.9V103.1M324.5 93.0V108.4M325.3 97.0V108.7M326.0 97.0V111.2M327.0 95.7V102.6M330.2 80.1V88.0M330.8 77.8V81.2M332.5 82.4V83.3M334.8 77.2V84.4M335.9 70.8V76.9M336.6 64.3V67.2M338.3 72.2V93.8M338.9 77.0V80.4M339.8 80.3V85.4M343.9 93.5V96.9M344.6 96.0V110.5M347.7 114.4V115.1M349.1 121.8V124.9M350.2 121.4V124.4M351.8 129.4V130.4M352.6 131.6V133.7M353.2 133.9V136.2M356.4 139.9V141.2" stroke="#151515" stroke-width="0.9" fill="none"/>
<path d="M52.5 218.8 V320.4 H257.2" fill="none" stroke="#222" stroke-width="1.1"/>
<path d="M52.5 320.4 v2.2 M67.9 320.4 v1.2 M76.9 320.4 v1.2 M83.3 320.4 v1.2 M88.3 320.4 v1.2 M92.3 320.4 v1.2 M95.7 320.4 v1.2 M98.7 320.4 v1.2 M101.3 320.4 v1.2 M103.7 320.4 v2.2 M119.1 320.4 v1.2 M128.1 320.4 v1.2 M134.5 320.4 v1.2 M139.4 320.4 v1.2 M143.5 320.4 v1.2 M146.9 320.4 v1.2 M149.9 320.4 v1.2 M152.5 320.4 v1.2 M154.8 320.4 v2.2 M170.3 320.4 v1.2 M179.3 320.4 v1.2 M185.7 320.4 v1.2 M190.6 320.4 v1.2 M194.7 320.4 v1.2 M198.1 320.4 v1.2 M201.1 320.4 v1.2 M203.7 320.4 v1.2 M206.0 320.4 v2.2 M221.4 320.4 v1.2 M230.4 320.4 v1.2 M236.8 320.4 v1.2 M241.8 320.4 v1.2 M245.8 320.4 v1.2 M249.3 320.4 v1.2 M252.2 320.4 v1.2 M254.9 320.4 v1.2 M257.2 320.4 v2.2" stroke="#555" stroke-width="0.8"/>
<path d="M51.0 244.2 h1.5 M51.0 269.6 h1.5 M51.0 295.0 h1.5" stroke="#888" stroke-width="0.8"/>
<text x="53.0" y="326.7" font-family="'Liberation Sans', sans-serif" font-weight="bold" font-size="4.4" text-anchor="start" fill="#000" stroke="#000" stroke-width="0.35">.1</text>
<text x="105.0" y="326.7" font-family="'Liberation Sans', sans-serif" font-weight="bold" font-size="4.4" text-anchor="middle" fill="#000" stroke="#000" stroke-width="0.35">1</text>
<text x="154.0" y="326.7" font-family="'Liberation Sans', sans-serif" font-weight="bold" font-size="4.4" text-anchor="middle" fill="#000" stroke="#000" stroke-width="0.35">10</text>
<text x="204.1" y="326.7" font-family="'Liberation Sans', sans-serif" font-weight="bold" font-size="4.4" text-anchor="middle" fill="#000" stroke="#000" stroke-width="0.35">100</text>
<text x="256.5" y="326.7" font-family="'Liberation Sans', sans-serif" font-weight="bold" font-size="4.4" text-anchor="end" fill="#000" stroke="#000" stroke-width="0.35">1000</text>
<path d="M61.2 313.0V317.4M61.2 312.2V317.0M63.4 310.4V311.9M67.6 299.1V306.5M68.3 297.7V300.6M77.4 268.6V273.2M78.1 268.1V277.5M78.9 264.5V272.0M78.9 262.3V269.9M79.4 260.4V277.1M81.0 257.3V272.5M80.9 261.5V274.8M81.8 251.1V263.3M82.3 252.7V266.2M83.1 252.9V258.2M84.3 250.5V256.3M84.9 248.0V258.1M87.0 242.3V251.7M89.2 246.7V252.2M90.0 249.3V258.4M90.5 245.3V254.1M91.3 248.4V257.6M92.8 253.1V260.2M95.6 260.5V261.6M97.1 264.3V266.1M97.1 260.2V273.4M98.4 266.6V277.2M100.4 273.7V283.9M101.3 277.2V284.8M105.2 290.9V295.5M106.8 292.1V303.8M106.8 294.0V301.9M107.5 298.2V303.7M108.8 295.2V309.4M109.5 304.5V305.4M113.7 310.3V312.5M114.3 311.1V318.7M116.6 315.4V316.0M118.1 313.1V317.0M117.9 316.2V318.2M122.8 317.8V319.1M125.0 319.2V319.8M126.2 319.2V319.8M129.3 319.3V320.0M130.5 319.1V319.9M131.2 319.6V320.2M133.6 319.5V320.3M134.0 319.6V320.3M136.1 319.8V320.4M143.7 319.5V320.1M145.1 319.3V320.1M146.0 319.9V320.5M153.9 265.8V274.7M154.4 259.2V266.0M155.8 271.5V275.1M157.8 294.3V297.5M163.4 296.7V299.1M164.1 285.9V297.3M165.0 293.9V298.2M166.9 283.3V288.5M171.8 290.4V297.6M172.8 289.2V293.0M174.2 281.2V288.7M179.4 288.6V290.8M180.3 285.8V291.9M183.8 292.1V299.6M184.4 283.8V294.2M185.1 289.1V294.0M186.0 289.0V294.9M187.3 286.3V305.4M187.3 286.0V293.0M188.1 288.6V290.5M188.8 288.3V291.7M189.6 292.0V296.6M190.0 287.5V304.6M191.5 289.1V297.2M195.2 285.9V298.2M199.2 293.9V303.9M199.7 295.8V306.2M204.6 288.2V301.9M205.5 288.9V300.9M207.6 295.2V296.7M208.8 292.4V301.3M209.9 299.3V305.9M210.5 295.6V302.4M211.0 298.0V303.5M211.0 293.6V305.5M212.6 290.6V306.2M213.4 295.8V302.4M214.0 293.2V309.5M214.1 297.2V298.7M214.5 294.5V307.0M220.9 302.6V309.0M222.2 303.7V308.0M222.8 303.4V314.2M224.3 306.2V311.6M226.0 308.5V313.2M226.5 310.2V315.7M227.2 311.3V313.5M229.5 313.9V317.3M233.6 319.9V320.5" stroke="#4a4a4a" stroke-width="0.8" stroke-dasharray="1 1.1" fill="none"/><path d="M54.9 319.9V320.5M55.7 319.0V320.3M56.3 318.9V320.0M57.2 318.2V318.8M56.9 318.1V319.2M57.9 317.5V318.7M59.1 315.8V316.9M63.4 306.5V310.9M64.1 307.5V312.4M64.0 308.2V310.5M65.5 304.2V315.4M67.0 300.3V304.8M67.5 300.4V304.8M69.1 297.6V303.1M69.6 286.5V301.7M69.8 292.6V303.0M72.6 286.7V289.3M74.6 274.8V287.2M74.6 280.0V281.4M75.4 277.8V285.5M76.9 273.9V287.6M79.5 257.1V267.6M81.8 253.7V267.2M83.1 254.0V263.2M83.6 248.5V259.5M84.3 237.3V256.9M85.2 250.2V259.7M85.8 247.4V263.9M87.0 243.9V257.3M87.8 245.1V249.9M89.2 240.2V251.2M90.2 243.4V250.9M91.4 244.6V253.2M92.0 249.2V256.2M92.1 247.8V260.3M93.6 252.7V264.6M95.1 252.8V259.3M97.7 267.5V274.8M98.5 263.3V274.0M99.2 264.4V272.9M99.9 272.5V275.6M102.7 277.8V284.5M104.6 288.0V296.2M107.5 298.0V299.6M108.2 300.4V309.2M110.9 306.1V309.5M112.4 308.3V312.7M112.2 309.9V315.8M112.9 306.2V313.0M116.7 314.9V318.6M117.4 315.7V316.3M118.6 316.6V317.2M120.2 316.6V317.6M120.9 317.9V319.5M121.6 318.0V318.8M122.1 318.2V319.6M122.8 318.8V320.1M123.7 319.1V319.7M125.1 318.2V319.9M127.0 318.7V319.6M127.8 319.5V320.1M129.2 319.4V320.3M130.0 319.4V320.3M131.5 319.5V320.3M132.2 319.4V320.3M132.6 319.2V319.8M134.7 319.6V320.2M135.6 319.6V320.3M136.2 319.7V320.3M137.0 319.6V320.2M137.8 319.3V320.1M138.5 319.8V320.4M138.9 319.8V320.4M141.3 319.6V320.3M141.1 319.7V320.3M143.1 319.6V320.3M148.0 319.5V320.3M148.6 319.1V320.0M149.4 319.0V319.7M151.8 299.4V306.8M153.5 262.9V275.1M155.1 266.2V275.2M158.6 299.3V302.4M159.5 307.7V310.3M160.6 299.9V306.0M161.5 300.8V305.3M162.3 298.7V304.0M164.2 296.5V311.2M166.5 287.7V296.0M168.3 268.3V273.2M169.8 283.5V289.1M170.4 283.6V293.1M171.1 289.7V292.3M172.5 288.1V293.1M173.4 283.7V292.5M173.3 285.5V290.5M174.8 279.5V282.6M174.7 275.9V281.0M175.4 283.2V284.4M175.9 284.8V294.0M176.1 286.5V293.2M176.8 288.2V296.2M178.8 290.9V293.1M178.8 288.1V293.1M181.1 281.4V288.5M182.4 280.1V290.1M182.5 285.5V293.8M188.0 284.5V289.7M190.0 293.1V300.3M190.7 290.3V302.8M192.3 286.5V294.8M194.3 289.8V292.5M194.3 289.7V293.7M197.0 289.1V298.2M197.6 296.6V306.4M198.7 288.2V300.0M199.2 296.0V303.0M199.8 294.9V307.8M201.9 290.1V306.6M203.5 289.0V302.7M204.2 294.6V301.8M205.5 294.7V309.7M206.4 293.2V298.0M208.1 289.4V301.4M211.9 291.0V307.1M215.9 299.5V306.1M216.1 301.3V303.4M216.5 302.3V303.8M217.4 303.6V308.1M218.0 303.6V308.9M218.9 302.2V309.6M219.5 304.3V311.5M221.6 304.7V309.5M223.7 305.3V313.9M224.2 305.0V317.2M224.9 305.9V310.7M226.4 311.7V316.3M227.2 311.0V314.5M230.2 314.6V317.4M230.7 317.3V318.5M231.3 316.9V319.0M231.9 318.7V319.3M232.7 319.5V320.1M233.3 320.0V320.6" stroke="#7e7e7e" stroke-width="0.8" stroke-dasharray="1 1.1" fill="none"/><path d="M55.0 319.4V320.3M55.9 319.3V319.9M56.3 318.6V319.2M57.7 317.2V320.3M58.6 315.5V317.5M59.8 315.1V316.4M59.9 315.5V318.6M60.7 313.4V319.0M61.8 310.7V313.8M62.8 310.1V315.7M62.6 311.2V312.6M65.0 303.3V316.0M65.4 301.8V310.7M66.0 304.2V313.3M66.0 300.5V305.8M70.3 286.8V296.3M70.6 292.0V307.3M71.2 292.2V294.6M71.7 286.8V296.1M71.8 286.5V297.0M73.8 282.1V283.2M73.7 278.9V284.1M76.1 270.4V279.9M76.1 267.5V277.2M80.3 260.0V272.7M80.1 263.0V273.0M82.2 250.9V257.4M87.9 239.9V250.8M88.4 247.7V253.9M88.7 246.1V256.8M90.8 244.0V259.3M92.8 252.8V259.8M93.3 253.0V261.6M94.0 255.2V261.9M94.2 256.9V257.5M94.8 256.8V262.1M97.5 267.0V272.5M99.0 264.1V273.4M99.7 265.3V277.0M100.3 274.3V277.3M101.4 276.8V287.8M101.8 280.2V281.9M102.0 273.4V283.2M103.2 282.0V291.4M103.5 278.0V293.9M103.9 283.9V301.7M104.8 285.9V297.2M105.4 291.1V300.8M106.2 284.7V297.8M106.2 290.0V299.9M108.3 297.8V306.2M108.8 300.8V315.9M109.5 301.5V307.7M110.2 303.0V307.5M110.5 301.0V307.6M111.7 308.0V314.2M114.0 310.0V314.5M114.7 310.3V317.2M115.2 311.2V314.3M115.1 312.8V316.9M115.8 313.7V315.2M116.0 314.6V315.2M117.5 316.0V318.1M119.5 316.7V318.3M121.7 317.6V319.9M122.3 318.3V319.0M123.6 318.7V319.9M124.4 319.5V320.1M124.5 319.4V320.0M125.7 319.0V319.9M125.7 319.4V320.3M126.5 319.2V319.9M130.6 319.6V320.2M131.9 319.4V320.0M133.5 319.4V320.2M134.1 319.3V320.3M135.4 319.6V320.2M137.1 319.7V320.3M137.6 319.2V320.3M138.4 319.8V320.4M139.7 319.4V320.3M139.6 319.6V320.3M140.3 319.4V320.1M140.5 319.7V320.3M141.8 319.9V320.5M142.4 319.7V320.3M142.6 319.8V320.4M143.2 319.8V320.4M144.0 319.6V320.2M144.4 319.8V320.4M144.6 319.9V320.5M145.4 319.8V320.4M146.1 319.6V320.2M147.4 319.2V320.3M147.4 319.4V320.0M148.3 319.5V320.1M148.8 319.0V320.3M150.0 318.6V319.3M150.9 312.3V314.8M150.8 312.3V315.7M152.4 293.8V299.6M152.5 291.5V300.7M153.0 279.8V286.7M154.2 259.5V268.8M157.0 286.7V292.2M157.2 285.0V291.8M159.4 307.1V311.2M160.8 297.7V310.6M161.3 300.9V312.3M162.2 299.4V302.4M162.9 300.6V307.7M163.7 295.8V299.8M164.8 292.6V305.2M165.5 288.9V305.1M165.5 293.5V294.1M166.4 291.4V299.7M167.6 272.9V283.8M169.2 274.2V284.0M170.5 284.8V293.2M171.3 289.5V295.5M171.9 287.0V295.1M175.6 281.8V285.1M176.6 278.1V291.3M177.5 290.2V291.4M177.5 284.0V297.1M178.0 291.0V298.5M180.2 283.6V291.2M181.8 278.9V290.3M181.8 279.6V286.8M183.2 284.4V290.9M183.2 287.1V295.0M183.8 287.3V295.3M184.4 292.0V298.2M185.4 287.1V296.2M186.1 286.4V291.5M186.5 285.2V292.2M188.8 289.4V300.4M190.9 287.8V308.5M191.4 291.4V297.3M192.7 279.5V295.2M192.9 283.7V292.5M193.5 281.2V292.0M193.8 287.0V294.1M195.0 290.8V299.0M196.3 287.9V301.3M197.0 293.0V300.7M197.6 286.2V301.4M198.5 293.8V309.8M200.4 286.7V301.3M200.7 295.8V303.8M201.2 297.0V311.6M202.8 294.3V303.1M203.3 295.9V309.2M206.2 289.9V298.9M206.9 292.6V296.9M208.4 293.2V304.3M210.5 296.2V311.0M211.8 296.4V308.4M213.2 291.4V307.4M214.6 298.0V306.1M215.4 299.4V304.7M216.6 301.4V303.2M217.5 303.8V306.3M218.1 299.6V308.8M220.2 305.3V312.7M220.7 299.2V312.7M221.6 306.1V312.1M222.1 304.2V310.2M223.1 306.5V311.0M223.7 307.8V310.3M225.2 308.8V313.4M225.8 309.9V314.8M227.9 311.6V316.1M227.9 309.6V317.6M228.5 313.3V316.2M228.5 314.4V315.9M229.3 315.3V316.5M230.0 315.1V319.3M231.3 318.1V319.3M232.3 318.4V320.3" stroke="#a8a8a8" stroke-width="0.8" stroke-dasharray="1 1.1" fill="none"/><path d="M58.3 316.1V317.2M59.1 315.6V317.4M60.5 314.0V318.8M62.1 309.5V317.1M64.9 306.4V316.9M66.8 300.1V308.2M68.2 299.4V300.8M69.0 294.3V300.3M71.2 289.5V294.6M72.6 286.9V291.3M73.4 276.8V289.2M73.2 285.0V290.1M75.5 276.1V288.7M76.9 271.6V274.4M77.4 263.6V273.0M78.1 266.8V273.7M83.8 239.7V259.3M86.0 249.7V255.1M86.5 245.7V251.6M86.3 243.5V253.1M95.7 259.0V265.8M96.4 262.5V263.1M96.2 263.0V269.3M102.7 280.2V292.7M104.0 283.0V294.3M110.9 306.0V313.8M111.5 306.2V310.0M113.1 311.3V312.8M118.8 315.3V317.7M119.3 316.7V317.6M119.9 317.2V317.8M120.6 317.6V318.4M127.0 318.8V319.7M128.0 319.5V320.1M128.4 318.9V320.3M128.6 319.6V320.2M130.1 319.3V320.2M132.7 319.3V320.3M135.0 319.3V319.9M139.0 319.3V320.0M141.6 319.6V320.3M146.5 319.8V320.4M146.6 319.5V320.3M149.6 319.4V320.0M150.2 319.0V319.6M151.6 301.1V308.5M152.8 276.2V287.8M155.1 262.3V275.4M155.6 271.7V277.4M156.5 279.8V288.4M156.4 275.3V285.9M157.8 288.5V300.3M158.5 296.7V307.4M159.8 302.0V307.1M159.9 302.7V313.7M163.0 296.5V306.8M167.1 282.8V286.7M167.9 273.8V288.5M168.3 267.4V273.7M168.9 271.4V282.4M169.8 283.1V292.1M174.0 278.7V285.7M178.1 287.6V300.0M179.4 290.0V291.1M181.0 278.9V289.7M186.6 289.8V295.9M189.4 291.1V292.9M192.1 290.2V299.6M195.8 285.0V293.8M195.5 281.5V298.2M196.3 294.7V295.9M201.1 294.2V303.6M202.2 296.9V299.7M202.6 294.0V313.4M204.2 293.7V299.4M204.7 289.5V296.9M207.0 294.7V301.7M207.6 293.1V296.8M209.1 296.7V302.1M209.9 298.9V308.6M212.5 294.9V299.5M215.2 294.6V306.5M218.7 303.3V312.1M219.3 302.9V311.3M220.3 302.8V306.7M230.5 316.9V317.5M233.0 319.5V320.1" stroke="#cccccc" stroke-width="0.8" stroke-dasharray="1 1.1" fill="none"/><path d="M55.0 320.3 L55.5 318.9 L56.0 318.6 L56.5 318.0 L57.0 319.1 L57.5 317.8 L58.0 317.2 L58.5 318.4 L59.0 315.9 L59.5 315.7 L60.0 315.5 L60.5 314.8 L61.0 312.7 L61.5 312.9 L62.0 312.7 L62.5 311.0 L63.0 311.7 L63.5 312.1 L64.0 308.6 L64.5 309.9 L65.0 305.6 L65.5 309.2 L66.0 304.9 L66.5 307.5 L67.0 304.4 L67.5 302.9 L68.0 294.2 L68.5 300.4 L69.0 291.4 L69.5 300.2 L70.0 301.0 L70.5 298.2 L71.0 291.5 L71.5 291.6 L72.0 284.2 L72.5 288.1 L73.0 289.0 L73.5 282.1 L74.0 285.8 L74.5 273.7 L75.0 279.1 L75.5 278.8 L76.0 276.6 L76.5 269.9 L77.0 284.3 L77.5 271.7 L78.0 272.2 L78.5 273.8 L79.0 264.3 L79.5 272.1 L80.0 268.0 L80.5 252.3 L81.0 262.4 L81.5 270.0 L82.0 261.2 L82.5 261.8 L83.0 248.0 L83.5 258.4 L84.0 251.6 L84.5 248.3 L85.0 247.0 L85.5 263.9 L86.0 249.2 L86.5 254.8 L87.0 263.0 L87.5 249.0 L88.0 247.0 L88.5 250.0 L89.0 247.7 L89.5 252.3 L90.0 250.0 L90.5 258.9 L91.0 262.8 L91.5 247.0 L92.0 250.8 L92.5 247.0 L93.0 248.9 L93.5 252.7 L94.0 247.0 L94.5 258.3 L95.0 253.2 L95.5 263.2 L96.0 260.3 L96.5 269.7 L97.0 268.1 L97.5 264.9 L98.0 267.6 L98.5 264.7 L99.0 269.5 L99.5 270.7 L100.0 283.9 L100.5 272.7 L101.0 275.0 L101.5 280.3 L102.0 278.5 L102.5 282.2 L103.0 279.8 L103.5 287.6 L104.0 285.4 L104.5 282.9 L105.0 291.7 L105.5 295.5 L106.0 298.0 L106.5 296.1 L107.0 295.9 L107.5 302.5 L108.0 301.7 L108.5 296.7 L109.0 308.7 L109.5 301.0 L110.0 304.0 L110.5 304.8 L111.0 309.2 L111.5 307.8 L112.0 308.3 L112.5 312.3 L113.0 308.2 L113.5 310.4 L114.0 313.5 L114.5 313.0 L115.0 312.4 L115.5 315.8 L116.0 317.1 L116.5 317.0 L117.0 316.7 L117.5 316.1 L118.0 315.3 L118.5 317.6 L119.0 318.6 L119.5 317.2 L120.0 318.5 L120.5 318.0 L121.0 317.8 L121.5 317.7 L122.0 318.4 L122.5 318.4 L123.0 319.2 L123.5 318.5 L124.0 320.0 L124.5 318.0 L125.0 319.4 L125.5 319.1 L126.0 319.3 L126.5 320.1 L127.0 319.5 L127.5 319.1 L128.0 319.1 L128.5 319.4 L129.0 319.7 L129.5 319.9 L130.0 320.2 L130.5 319.0 L131.0 318.9 L131.5 319.9 L132.0 319.4 L132.5 319.8 L133.0 319.7 L133.5 319.8 L134.0 319.2 L134.5 319.7 L135.0 319.9 L135.5 319.2 L136.0 320.3 L136.5 319.6 L137.0 319.7 L137.5 320.2 L138.0 320.3 L138.5 320.3 L139.0 320.0 L139.5 320.2 L140.0 320.3 L140.5 320.0 L141.0 320.1 L141.5 320.0 L142.0 320.1 L142.5 320.1 L143.0 320.2 L143.5 319.9 L144.0 320.1 L144.5 319.5 L145.0 320.0 L145.5 320.3 L146.0 319.3 L146.5 319.8 L147.0 319.4 L147.5 319.8 L148.0 320.3 L148.5 319.1 L149.0 319.2 L149.5 320.3 L150.0 319.9 L150.5 317.4 L151.0 313.5 L151.5 306.8 L152.0 296.4 L152.5 281.3 L153.0 279.4 L153.5 259.8 L154.0 271.1 L154.5 256.2 L155.0 262.1 L155.5 279.6 L156.0 274.4 L156.5 283.8 L157.0 291.5 L157.5 280.5 L158.0 302.6 L158.5 296.2 L159.0 313.3 L159.5 305.6 L160.0 304.7 L160.5 302.5 L161.0 304.3 L161.5 304.0 L162.0 304.8 L162.5 301.1 L163.0 298.8 L163.5 295.2 L164.0 301.3 L164.5 296.6 L165.0 290.7 L165.5 290.3 L166.0 284.5 L166.5 295.3 L167.0 284.2 L167.5 284.0 L168.0 272.4 L168.5 272.9 L169.0 273.5 L169.5 276.9 L170.0 288.1 L170.5 294.8 L171.0 288.6 L171.5 290.5 L172.0 293.3 L172.5 288.2 L173.0 277.7 L173.5 280.3 L174.0 283.6 L174.5 279.8 L175.0 285.2 L175.5 287.8 L176.0 288.8 L176.5 295.0 L177.0 291.6 L177.5 290.4 L178.0 288.5 L178.5 291.0 L179.0 298.0 L179.5 293.0 L180.0 286.5 L180.5 292.2 L181.0 287.7 L181.5 284.6 L182.0 292.2 L182.5 286.6 L183.0 290.6 L183.5 299.8 L184.0 288.1 L184.5 288.1 L185.0 296.4 L185.5 289.8 L186.0 288.5 L186.5 284.4 L187.0 285.1 L187.5 292.8 L188.0 286.1 L188.5 291.1 L189.0 297.3 L189.5 298.6 L190.0 293.0 L190.5 294.9 L191.0 296.2 L191.5 294.1 L192.0 293.6 L192.5 284.1 L193.0 283.7 L193.5 285.1 L194.0 292.0 L194.5 298.2 L195.0 292.3 L195.5 291.0 L196.0 305.7 L196.5 296.8 L197.0 290.5 L197.5 299.2 L198.0 298.0 L198.5 294.6 L199.0 293.7 L199.5 297.5 L200.0 294.4 L200.5 297.7 L201.0 299.6 L201.5 301.1 L202.0 298.0 L202.5 295.4 L203.0 301.5 L203.5 296.6 L204.0 299.3 L204.5 298.4 L205.0 295.4 L205.5 295.9 L206.0 298.7 L206.5 294.8 L207.0 292.6 L207.5 293.8 L208.0 302.2 L208.5 303.0 L209.0 292.5 L209.5 303.7 L210.0 308.2 L210.5 305.1 L211.0 299.4 L211.5 297.9 L212.0 295.8 L212.5 292.9 L213.0 299.1 L213.5 294.5 L214.0 298.1 L214.5 297.5 L215.0 298.3 L215.5 296.9 L216.0 299.0 L216.5 298.9 L217.0 303.1 L217.5 303.5 L218.0 305.4 L218.5 303.4 L219.0 303.4 L219.5 304.5 L220.0 306.0 L220.5 301.4 L221.0 307.2 L221.5 309.1 L222.0 304.6 L222.5 313.5 L223.0 310.1 L223.5 310.4 L224.0 307.9 L224.5 308.1 L225.0 309.6 L225.5 309.7 L226.0 313.1 L226.5 313.9 L227.0 311.2 L227.5 313.1 L228.0 315.6 L228.5 317.5 L229.0 314.1 L229.5 316.0 L230.0 315.9 L230.5 317.1 L231.0 317.6 L231.5 320.3 L232.0 318.7 L232.5 318.8 L233.0 320.1 L233.5 319.3 L234.0 320.3" fill="none" stroke="#bdbdbd" stroke-width="0.6"/><path d="M52.8 320.3 L53.6 319.9 L54.4 319.5 L55.2 319.4 L56.0 317.5 L56.8 317.1 L57.6 316.2 L58.4 314.0 L59.2 316.0 L60.0 312.8 L60.8 312.9 L61.6 311.3 L62.4 312.3 L63.2 310.2 L64.0 305.8 L64.8 305.7 L65.6 300.6 L66.4 297.8 L67.2 299.8 L68.0 296.2 L68.8 295.8 L69.6 289.7 L70.4 283.5 L71.2 281.4 L72.0 280.5 L72.8 276.0 L73.6 286.0 L74.4 276.3 L75.2 270.3 L76.0 268.6 L76.8 258.9 L77.6 270.1 L78.4 264.0 L79.2 262.2 L80.0 259.3 L80.8 260.8 L81.6 256.7 L82.4 247.4 L83.2 244.7 L84.0 244.8 L84.8 244.9 L85.6 248.4 L86.4 248.8 L87.2 246.0 L88.0 251.5 L88.8 249.7 L89.6 248.8 L90.4 236.5 L91.2 244.9 L92.0 238.3 L92.8 241.2 L93.6 254.9 L94.4 248.8 L95.2 257.5 L96.0 264.6 L96.8 254.9 L97.6 272.1 L98.4 273.5 L99.2 270.1 L100.0 275.2 L100.8 273.5 L101.6 281.5 L102.4 282.6 L103.2 279.8 L104.0 288.9 L104.8 288.8 L105.6 295.4 L106.4 292.5 L107.2 302.1 L108.0 299.1 L108.8 303.3 L109.6 298.0 L110.4 305.9 L111.2 304.2 L112.0 308.6 L112.8 312.4 L113.6 309.3 L114.4 310.9 L115.2 310.4 L116.0 314.9 L116.8 314.4 L117.6 314.8 L118.4 316.8 L119.2 314.9 L120.0 317.9 L120.8 317.0 L121.6 318.6 L122.4 318.8 L123.2 318.7 L124.0 318.6 L124.8 318.5 L125.6 318.3 L126.4 320.0 L127.2 318.7 L128.0 319.2 L128.8 319.9 L129.6 319.4 L130.4 318.6 L131.2 318.8 L132.0 320.0 L132.8 319.5 L133.6 319.3 L134.4 318.5 L135.2 319.3 L136.0 319.5 L136.8 319.2 L137.6 320.3 L138.4 319.2 L139.2 318.6 L140.0 319.0 L140.8 320.2 L141.6 317.9 L142.4 318.8 L143.2 319.3 L144.0 319.2 L144.8 318.7 L145.6 319.3 L146.4 318.7 L147.2 317.3 L148.0 318.0 L148.8 315.2 L149.6 316.1 L150.4 313.9 L151.2 310.6 L152.0 309.9 L152.8 306.5 L153.6 308.6 L154.4 309.1 L155.2 307.0 L156.0 309.2 L156.8 312.7 L157.6 313.4 L158.4 316.1 L159.2 315.7 L160.0 316.2 L160.8 316.1 L161.6 318.7 L162.4 317.7 L163.2 317.6 L164.0 319.1 L164.8 317.1 L165.6 315.0 L166.4 315.8 L167.2 315.6 L168.0 312.4 L168.8 317.8 L169.6 316.0 L170.4 317.8 L171.2 318.3 L172.0 319.3 L172.8 319.1 L173.6 317.2 L174.4 316.1 L175.2 318.3 L176.0 316.8 L176.8 317.7 L177.6 317.4 L178.4 318.2 L179.2 318.5 L180.0 319.2 L180.8 319.5 L181.6 318.5 L182.4 318.6 L183.2 319.2 L184.0 319.8 L184.8 319.3 L185.6 318.5 L186.4 318.1 L187.2 318.1 L188.0 318.8 L188.8 318.4 L189.6 319.6 L190.4 318.0 L191.2 318.9 L192.0 319.5 L192.8 319.5 L193.6 319.7 L194.4 319.2 L195.2 318.6 L196.0 319.6 L196.8 318.6 L197.6 319.1 L198.4 320.2 L199.2 319.8 L200.0 319.8 L200.8 319.6 L201.6 318.3 L202.4 318.1 L203.2 319.1 L204.0 319.2 L204.8 319.6 L205.6 318.8 L206.4 319.8 L207.2 319.5 L208.0 319.4 L208.8 318.9 L209.6 319.3 L210.4 320.3 L211.2 319.3 L212.0 319.7 L212.8 319.4 L213.6 318.9 L214.4 320.2 L215.2 319.5 L216.0 319.1 L216.8 320.3 L217.6 319.0 L218.4 319.3 L219.2 319.5 L220.0 319.9 L220.8 319.5 L221.6 319.3 L222.4 319.9 L223.2 319.9 L224.0 320.0 L224.8 319.6 L225.6 319.6 L226.4 319.4 L227.2 319.6 L228.0 319.9 L228.8 319.7 L229.6 320.1 L230.4 319.5 L231.2 320.2 L232.0 320.2 L232.8 319.8 L233.6 320.3 L234.4 319.7 L235.2 319.4 L236.0 319.7 L236.8 319.7 L237.6 319.8 L238.4 320.0 L239.2 319.9 L240.0 320.3 L240.8 319.9 L241.6 319.8 L242.4 319.5 L243.2 320.1 L244.0 320.0 L244.8 319.9 L245.6 320.2 L246.4 320.2 L247.2 320.2 L248.0 320.2 L248.8 319.8 L249.6 320.3 L250.4 320.3 L251.2 320.3 L252.0 320.2 L252.8 320.1 L253.6 320.3 L254.4 320.2 L255.2 320.3 L256.0 320.2 L256.8 320.3" fill="none" stroke="#111" stroke-width="1.35"/><path d="M59.3 314.7V316.1M63.9 306.9V308.7M66.5 300.9V306.4M73.0 281.0V283.1M81.0 257.1V265.5M86.5 235.3V241.3M89.4 249.1V257.1M91.2 239.5V241.9M96.8 262.7V264.6M100.1 273.6V286.8M103.9 285.6V287.7M105.7 291.8V295.6M107.0 297.3V298.5M112.9 309.0V309.8M115.1 313.4V314.5M148.7 316.2V317.4M168.7 316.1V317.3" stroke="#151515" stroke-width="0.9" fill="none"/>
<path d="M292.5 218.8 V320.3 H497" fill="none" stroke="#222" stroke-width="1.1"/>
<path d="M292.5 320.3 v2.2 M307.9 320.3 v1.2 M316.9 320.3 v1.2 M323.3 320.3 v1.2 M328.2 320.3 v1.2 M332.3 320.3 v1.2 M335.7 320.3 v1.2 M338.7 320.3 v1.2 M341.3 320.3 v1.2 M343.6 320.3 v2.2 M359.0 320.3 v1.2 M368.0 320.3 v1.2 M374.4 320.3 v1.2 M379.4 320.3 v1.2 M383.4 320.3 v1.2 M386.8 320.3 v1.2 M389.8 320.3 v1.2 M392.4 320.3 v1.2 M394.8 320.3 v2.2 M410.1 320.3 v1.2 M419.1 320.3 v1.2 M425.5 320.3 v1.2 M430.5 320.3 v1.2 M434.5 320.3 v1.2 M438.0 320.3 v1.2 M440.9 320.3 v1.2 M443.5 320.3 v1.2 M445.9 320.3 v2.2 M461.3 320.3 v1.2 M470.3 320.3 v1.2 M476.7 320.3 v1.2 M481.6 320.3 v1.2 M485.7 320.3 v1.2 M489.1 320.3 v1.2 M492.0 320.3 v1.2 M494.7 320.3 v1.2 M497.0 320.3 v2.2" stroke="#555" stroke-width="0.8"/>
<path d="M291.0 244.2 h1.5 M291.0 269.6 h1.5 M291.0 294.9 h1.5" stroke="#888" stroke-width="0.8"/>
<text x="293.0" y="326.6" font-family="'Liberation Sans', sans-serif" font-weight="bold" font-size="4.4" text-anchor="start" fill="#000" stroke="#000" stroke-width="0.35">.1</text>
<text x="345.0" y="326.6" font-family="'Liberation Sans', sans-serif" font-weight="bold" font-size="4.4" text-anchor="middle" fill="#000" stroke="#000" stroke-width="0.35">1</text>
<text x="394.0" y="326.6" font-family="'Liberation Sans', sans-serif" font-weight="bold" font-size="4.4" text-anchor="middle" fill="#000" stroke="#000" stroke-width="0.35">10</text>
<text x="444.1" y="326.6" font-family="'Liberation Sans', sans-serif" font-weight="bold" font-size="4.4" text-anchor="middle" fill="#000" stroke="#000" stroke-width="0.35">100</text>
<text x="496.5" y="326.6" font-family="'Liberation Sans', sans-serif" font-weight="bold" font-size="4.4" text-anchor="end" fill="#000" stroke="#000" stroke-width="0.35">1000</text>
<path d="M297.4 317.7V319.6M299.0 317.0V319.0M299.5 316.9V318.0M299.7 317.2V318.4M302.4 313.7V316.4M302.4 315.8V317.8M302.9 314.5V319.6M304.5 312.2V314.6M306.7 312.3V318.2M311.6 305.0V310.7M312.3 302.4V311.7M315.5 301.9V305.0M318.3 302.8V309.9M320.7 297.2V306.9M322.7 296.9V301.3M324.9 292.6V298.2M325.3 292.2V299.6M328.3 280.0V302.8M328.9 277.5V285.0M328.9 278.1V295.5M330.3 265.8V283.4M331.0 271.3V285.9M333.3 269.0V279.7M336.8 258.5V271.1M339.4 245.0V256.6M339.4 249.5V257.0M340.1 246.2V254.9M341.6 245.8V250.5M343.7 241.8V250.5M345.1 240.1V254.2M346.5 245.3V257.0M347.7 248.4V251.5M349.3 250.1V262.0M350.0 253.3V269.9M352.0 253.6V262.9M352.1 257.2V264.5M353.5 262.2V274.2M354.7 269.2V274.0M355.6 269.3V279.6M356.1 272.9V282.2M357.1 281.1V286.8M357.1 276.6V284.1M358.4 282.5V293.5M359.0 286.8V298.9M360.2 295.6V303.6M362.5 302.4V305.3M362.6 303.0V306.0M364.1 304.1V309.6M364.6 305.7V313.5M366.1 310.3V316.0M369.0 316.0V318.6M368.8 316.1V316.9M369.5 316.3V317.8M369.5 317.2V317.8M370.3 317.6V318.3M371.0 318.0V319.2M371.4 317.3V318.9M372.2 318.2V318.8M373.7 318.7V319.3M374.4 318.3V319.9M375.3 319.1V319.7M375.9 319.2V320.1M377.1 319.5V320.1M378.6 318.8V320.2M380.2 319.3V319.9M381.3 319.3V319.9M382.1 319.2V320.2M384.0 319.3V320.2M386.4 318.2V320.1M386.4 318.6V319.5M387.6 317.5V319.1M388.6 318.1V318.7M394.1 291.1V305.5M395.5 286.0V296.4M395.5 290.9V297.1M396.9 282.8V306.1M398.0 294.8V306.7M398.2 301.3V305.9M402.5 313.5V317.9M403.0 313.9V317.6M404.7 312.3V315.5M405.4 309.3V315.6M406.1 308.7V311.8M406.6 308.5V313.7M407.3 300.6V309.7M407.1 303.6V314.1M407.8 302.8V306.3M408.1 303.8V314.9M413.5 306.0V311.4M414.8 302.4V307.1M417.7 310.3V310.9M419.2 306.4V311.6M420.6 306.9V313.7M422.1 307.7V309.8M423.5 307.8V312.6M424.1 309.0V313.2M424.8 311.7V312.6M427.0 308.1V313.7M428.4 307.6V312.5M429.2 310.2V312.2M432.6 311.6V313.3M439.5 306.7V313.3M439.4 311.3V312.1M440.2 310.8V316.3M442.3 312.9V315.4M443.6 312.2V315.0M444.4 313.7V315.3M445.9 314.5V316.5M446.6 315.9V318.5M447.4 314.9V319.2M448.0 316.0V318.1M448.4 316.4V317.0M448.7 315.2V316.8M450.0 316.1V317.9M450.7 315.7V317.5M451.4 315.4V317.4M451.3 316.1V317.1M454.9 315.1V316.4M455.0 315.6V318.0M457.2 318.1V319.2" stroke="#4a4a4a" stroke-width="0.8" stroke-dasharray="1 1.1" fill="none"/><path d="M298.3 317.5V319.9M298.2 317.9V320.2M298.7 317.4V319.0M301.0 316.7V317.3M303.1 313.3V318.7M303.5 314.0V315.2M303.7 313.8V317.1M304.4 313.4V314.4M305.0 311.7V315.4M305.8 312.8V313.5M305.9 312.5V315.9M307.3 310.3V314.8M308.7 308.3V311.4M309.9 308.6V311.3M311.4 305.6V312.9M313.7 301.6V308.6M315.1 300.2V309.0M315.8 296.2V307.5M317.1 304.0V309.4M321.9 298.6V312.5M323.8 289.0V300.6M325.4 291.8V298.4M326.2 289.2V293.7M327.7 282.9V290.4M330.4 270.4V281.4M330.9 275.1V276.9M332.6 270.6V282.5M334.6 267.6V271.3M334.6 264.1V272.0M335.3 254.8V267.1M336.1 257.6V270.8M337.1 259.2V263.9M337.5 260.2V269.1M337.9 253.3V267.9M338.2 251.5V259.9M338.6 252.0V254.9M340.6 241.5V248.1M341.3 235.4V253.0M342.8 245.4V255.2M343.6 234.3V256.3M344.4 242.1V250.5M344.5 245.6V250.3M345.9 237.3V246.6M347.2 248.1V261.3M347.8 242.9V256.0M348.5 238.7V261.1M350.7 249.4V257.5M350.7 251.0V270.4M351.4 257.3V273.3M353.6 261.3V266.6M354.0 266.2V270.8M356.2 275.5V279.4M357.6 282.2V284.8M358.4 280.3V296.1M359.0 287.6V297.0M359.9 292.5V299.4M362.0 298.1V305.6M363.3 306.1V310.7M365.2 309.2V313.0M367.3 311.7V316.4M372.2 317.7V320.1M373.0 318.3V319.2M373.1 318.1V319.1M375.0 318.3V320.1M376.6 318.8V319.7M379.3 319.3V319.9M379.4 319.4V320.1M380.8 319.3V320.0M380.7 319.3V320.2M382.0 319.3V320.2M382.7 318.6V319.6M384.8 318.6V319.7M384.8 319.2V319.8M386.8 318.3V319.1M387.6 317.8V319.7M388.5 317.7V320.2M389.8 316.0V317.7M390.6 315.2V316.7M390.5 315.8V317.5M392.6 304.0V314.3M392.7 303.6V307.1M393.2 300.5V306.8M393.2 293.5V308.5M396.3 274.6V298.3M396.6 286.2V294.3M397.6 296.1V298.7M397.6 294.7V299.6M399.6 310.7V314.7M400.1 311.1V314.7M400.9 313.5V316.7M401.2 313.5V316.0M401.8 314.1V318.4M401.8 315.4V317.3M402.9 314.6V315.9M403.8 313.2V315.3M403.8 313.7V317.0M405.8 307.1V311.3M409.6 301.9V310.3M410.2 305.0V312.3M410.3 305.2V310.5M412.2 308.0V310.2M412.8 305.7V309.2M412.9 306.2V308.4M413.4 304.7V310.5M415.1 304.8V307.0M416.9 306.2V312.3M418.4 309.8V316.8M419.7 306.0V310.4M421.5 308.1V310.0M422.0 307.9V311.6M422.7 306.0V313.3M426.9 310.0V316.2M427.6 309.3V315.5M428.2 308.5V310.6M429.1 306.6V314.7M431.9 311.0V312.5M432.5 309.1V314.6M433.3 309.2V312.4M434.7 310.3V315.4M435.3 310.4V314.2M435.9 310.0V317.2M436.6 310.4V312.4M438.2 311.3V315.0M438.8 307.1V313.6M440.9 312.0V315.3M440.7 311.5V313.8M441.7 312.7V314.4M443.1 313.8V316.6M442.9 313.0V315.9M445.2 314.3V315.8M445.2 314.8V316.5M445.9 315.4V316.0M449.9 316.2V318.4M452.9 315.5V316.8M454.1 316.0V316.6M458.4 319.4V320.0M459.1 319.7V320.3" stroke="#7e7e7e" stroke-width="0.8" stroke-dasharray="1 1.1" fill="none"/><path d="M295.9 318.8V319.5M296.7 318.3V319.3M297.3 318.4V319.3M300.0 317.2V317.8M300.1 317.1V317.9M301.8 315.5V316.9M301.6 315.6V318.3M305.2 312.7V314.8M306.5 311.4V316.8M307.0 311.4V315.1M308.6 307.9V310.7M309.2 307.7V312.4M309.5 309.5V311.1M310.1 306.6V309.7M310.5 308.1V319.6M310.9 308.7V310.3M312.2 307.2V310.6M312.8 306.2V312.3M312.9 305.8V310.8M314.1 297.8V307.4M314.1 300.2V306.7M315.1 304.5V308.2M316.2 304.4V306.9M316.2 299.9V308.6M316.9 301.2V305.3M317.5 302.8V309.7M317.8 303.2V307.8M318.4 302.4V312.5M319.3 299.8V304.7M319.1 298.5V317.9M319.9 296.9V307.9M319.7 298.2V307.5M320.6 299.3V311.7M321.4 295.1V307.0M321.9 292.5V307.3M323.2 296.6V297.9M323.4 290.1V299.1M323.9 293.4V300.9M324.6 295.0V300.7M325.9 285.0V292.0M326.9 283.5V292.8M326.6 283.3V292.6M327.3 277.8V291.0M328.1 277.8V298.5M329.5 279.8V284.5M329.7 273.1V281.5M331.8 274.8V277.0M333.1 269.0V272.9M333.9 267.8V280.1M333.7 260.5V274.6M335.4 265.2V274.1M336.0 258.0V270.1M336.7 260.3V265.8M338.7 250.7V255.3M339.9 247.0V249.7M340.7 246.1V248.5M342.0 245.5V256.5M342.2 244.9V252.4M342.9 247.4V252.1M344.8 236.8V252.1M346.6 245.0V249.9M346.9 237.8V251.9M348.6 250.7V256.1M349.2 251.4V258.0M350.0 254.3V258.5M351.4 257.3V266.8M352.7 262.7V272.2M352.5 257.7V267.0M354.8 267.4V274.3M355.6 271.7V286.6M359.8 291.9V294.4M360.5 294.3V297.6M361.9 300.8V303.0M363.2 303.4V310.0M363.8 306.6V309.4M365.2 309.6V316.1M365.9 311.0V315.4M366.8 312.9V314.3M368.0 315.5V316.4M368.1 313.0V315.9M370.1 317.4V319.9M370.7 317.4V318.5M371.5 318.4V319.0M373.6 318.9V319.5M374.4 318.9V319.5M377.3 319.0V320.1M378.1 319.2V320.1M378.7 319.3V320.1M379.9 319.3V320.2M381.4 319.0V319.9M382.6 319.0V319.7M383.3 318.7V319.8M384.0 319.2V319.8M385.6 319.2V319.8M385.6 319.3V320.2M387.2 317.6V319.0M389.1 316.8V318.4M389.3 317.7V318.3M389.9 316.7V318.8M391.3 312.4V313.3M391.8 307.4V315.0M391.7 309.5V310.9M394.2 294.7V300.9M394.5 292.6V307.0M394.5 292.4V303.3M396.0 283.9V297.0M398.7 303.0V310.3M399.0 306.3V307.3M399.8 310.4V313.9M400.3 312.7V318.5M402.4 313.2V316.3M404.3 314.2V315.2M405.2 309.2V314.4M406.4 304.8V313.5M408.8 296.2V310.4M409.2 302.8V311.1M410.8 307.6V313.1M411.6 307.3V312.7M411.3 302.7V309.3M412.1 306.3V313.3M414.4 302.7V308.4M414.1 305.5V307.3M415.6 305.3V309.4M415.7 304.8V310.7M416.2 304.5V308.8M416.3 308.1V309.4M417.2 308.0V313.4M417.8 306.0V311.2M418.6 309.9V312.6M419.1 308.8V316.1M419.9 308.2V311.7M420.5 305.6V313.8M421.2 306.2V308.5M422.6 304.0V311.1M423.2 305.9V313.5M423.9 308.6V314.9M425.4 311.5V314.5M426.0 310.3V311.8M426.0 310.6V316.4M427.7 308.4V312.4M429.7 308.0V310.8M430.4 308.8V311.4M430.9 311.4V316.7M431.0 310.7V312.6M432.0 310.1V313.7M433.8 309.3V313.6M433.9 311.4V315.1M434.4 307.2V316.5M435.3 307.0V315.6M436.2 311.1V315.5M436.8 310.2V313.2M437.2 310.8V314.2M437.5 311.0V315.0M438.1 310.5V311.9M438.8 310.5V314.1M440.3 310.5V313.0M441.6 312.3V313.7M442.5 312.2V317.0M443.7 314.7V318.0M444.6 313.6V315.4M447.1 315.6V318.4M448.1 316.1V316.7M449.1 315.9V317.2M450.6 314.2V318.0M452.0 315.3V317.3M452.6 315.3V318.0M453.6 315.9V317.9M453.6 315.3V317.2M454.2 315.6V316.9M455.8 315.7V319.1M455.5 315.3V316.8M456.3 317.5V318.4M456.3 317.8V318.4M456.9 318.4V319.4M457.8 319.1V319.7M457.7 318.9V319.5M458.4 319.1V319.7M459.9 319.9V320.5M459.7 320.1V320.7" stroke="#a8a8a8" stroke-width="0.8" stroke-dasharray="1 1.1" fill="none"/><path d="M295.8 319.2V319.8M296.6 319.0V319.6M300.9 317.0V318.0M307.8 309.6V314.4M308.0 310.5V315.1M313.3 303.8V313.4M321.1 297.2V304.7M322.6 293.6V301.0M331.6 271.6V277.2M332.4 272.7V273.7M345.8 244.0V249.5M354.1 265.5V270.7M357.5 279.9V286.1M361.2 295.9V306.1M361.0 297.5V304.4M364.4 305.2V312.6M366.8 312.1V314.0M367.4 314.7V315.3M375.9 318.8V319.8M376.7 319.3V319.9M378.0 319.5V320.2M383.6 319.2V319.9M391.3 312.8V315.3M408.9 295.4V311.8M410.7 307.3V309.7M424.6 310.4V314.5M425.5 308.6V313.8M429.7 306.9V313.5M430.2 308.9V313.2M433.2 311.1V311.9M446.4 314.1V316.3M449.3 313.9V317.3M452.0 315.3V316.6M458.9 319.6V320.2" stroke="#cccccc" stroke-width="0.8" stroke-dasharray="1 1.1" fill="none"/><path d="M296.0 319.4 L296.5 319.8 L297.0 319.2 L297.5 318.8 L298.0 319.6 L298.5 318.4 L299.0 319.3 L299.5 319.4 L300.0 316.1 L300.5 319.9 L301.0 314.4 L301.5 317.4 L302.0 317.7 L302.5 315.2 L303.0 313.3 L303.5 315.3 L304.0 314.7 L304.5 314.3 L305.0 312.7 L305.5 313.5 L306.0 313.4 L306.5 313.7 L307.0 311.1 L307.5 313.8 L308.0 311.8 L308.5 307.9 L309.0 304.4 L309.5 311.3 L310.0 309.2 L310.5 309.9 L311.0 312.6 L311.5 307.8 L312.0 309.3 L312.5 307.5 L313.0 308.9 L313.5 304.1 L314.0 306.3 L314.5 307.8 L315.0 307.0 L315.5 305.4 L316.0 304.1 L316.5 300.5 L317.0 306.1 L317.5 306.5 L318.0 298.8 L318.5 300.6 L319.0 299.4 L319.5 305.4 L320.0 301.0 L320.5 301.5 L321.0 300.9 L321.5 299.6 L322.0 296.6 L322.5 295.4 L323.0 301.3 L323.5 297.0 L324.0 292.4 L324.5 297.8 L325.0 295.5 L325.5 293.9 L326.0 290.1 L326.5 289.8 L327.0 291.3 L327.5 284.5 L328.0 290.2 L328.5 279.3 L329.0 278.9 L329.5 281.0 L330.0 276.6 L330.5 282.8 L331.0 278.2 L331.5 273.1 L332.0 280.2 L332.5 274.5 L333.0 267.0 L333.5 273.6 L334.0 263.5 L334.5 259.1 L335.0 260.4 L335.5 265.9 L336.0 263.1 L336.5 266.9 L337.0 261.5 L337.5 256.4 L338.0 258.9 L338.5 263.9 L339.0 250.4 L339.5 251.5 L340.0 243.0 L340.5 244.2 L341.0 243.0 L341.5 243.0 L342.0 243.0 L342.5 252.9 L343.0 253.6 L343.5 260.3 L344.0 243.0 L344.5 252.3 L345.0 243.0 L345.5 254.9 L346.0 253.5 L346.5 257.3 L347.0 243.0 L347.5 251.6 L348.0 249.2 L348.5 264.4 L349.0 245.8 L349.5 244.9 L350.0 257.5 L350.5 247.2 L351.0 265.2 L351.5 251.4 L352.0 264.3 L352.5 263.6 L353.0 265.5 L353.5 261.7 L354.0 267.5 L354.5 271.3 L355.0 268.6 L355.5 279.8 L356.0 284.4 L356.5 280.4 L357.0 287.6 L357.5 281.6 L358.0 289.5 L358.5 281.7 L359.0 290.4 L359.5 286.5 L360.0 297.0 L360.5 300.0 L361.0 295.6 L361.5 302.0 L362.0 300.5 L362.5 303.0 L363.0 305.9 L363.5 306.4 L364.0 310.4 L364.5 307.0 L365.0 311.4 L365.5 310.7 L366.0 314.4 L366.5 313.3 L367.0 313.0 L367.5 315.1 L368.0 316.7 L368.5 315.5 L369.0 317.0 L369.5 319.1 L370.0 318.4 L370.5 316.9 L371.0 318.5 L371.5 316.2 L372.0 318.0 L372.5 318.6 L373.0 318.9 L373.5 319.5 L374.0 317.6 L374.5 319.0 L375.0 318.4 L375.5 320.2 L376.0 319.8 L376.5 318.8 L377.0 319.7 L377.5 319.5 L378.0 319.3 L378.5 319.8 L379.0 319.6 L379.5 319.9 L380.0 319.8 L380.5 319.4 L381.0 319.1 L381.5 319.9 L382.0 319.3 L382.5 320.0 L383.0 319.6 L383.5 320.2 L384.0 319.8 L384.5 319.7 L385.0 319.6 L385.5 320.0 L386.0 318.3 L386.5 319.3 L387.0 318.6 L387.5 318.2 L388.0 318.1 L388.5 317.5 L389.0 318.2 L389.5 318.2 L390.0 315.6 L390.5 316.7 L391.0 314.2 L391.5 309.8 L392.0 309.5 L392.5 310.4 L393.0 300.7 L393.5 303.8 L394.0 307.5 L394.5 289.6 L395.0 290.1 L395.5 291.1 L396.0 287.6 L396.5 284.1 L397.0 293.1 L397.5 301.5 L398.0 302.0 L398.5 309.0 L399.0 307.6 L399.5 310.6 L400.0 312.5 L400.5 316.4 L401.0 314.4 L401.5 315.8 L402.0 316.6 L402.5 316.3 L403.0 315.6 L403.5 317.6 L404.0 313.6 L404.5 314.3 L405.0 314.7 L405.5 309.8 L406.0 311.0 L406.5 307.2 L407.0 306.1 L407.5 302.0 L408.0 304.8 L408.5 303.5 L409.0 304.1 L409.5 308.7 L410.0 307.3 L410.5 307.6 L411.0 309.8 L411.5 305.8 L412.0 305.0 L412.5 306.4 L413.0 309.4 L413.5 306.6 L414.0 304.9 L414.5 303.5 L415.0 308.8 L415.5 303.2 L416.0 307.1 L416.5 310.0 L417.0 310.0 L417.5 314.2 L418.0 310.0 L418.5 310.2 L419.0 309.7 L419.5 305.1 L420.0 309.9 L420.5 309.5 L421.0 305.6 L421.5 311.1 L422.0 307.3 L422.5 309.5 L423.0 310.1 L423.5 311.5 L424.0 310.7 L424.5 312.6 L425.0 311.2 L425.5 308.5 L426.0 312.2 L426.5 310.6 L427.0 308.0 L427.5 311.3 L428.0 310.8 L428.5 312.1 L429.0 309.5 L429.5 310.6 L430.0 308.8 L430.5 310.9 L431.0 310.7 L431.5 312.2 L432.0 314.3 L432.5 313.2 L433.0 313.3 L433.5 315.1 L434.0 312.3 L434.5 315.0 L435.0 313.4 L435.5 310.0 L436.0 312.0 L436.5 311.2 L437.0 312.4 L437.5 309.7 L438.0 312.6 L438.5 313.1 L439.0 310.6 L439.5 312.4 L440.0 310.4 L440.5 310.8 L441.0 314.9 L441.5 312.7 L442.0 313.2 L442.5 314.0 L443.0 314.3 L443.5 315.9 L444.0 315.7 L444.5 316.9 L445.0 315.5 L445.5 317.0 L446.0 317.3 L446.5 317.2 L447.0 316.3 L447.5 315.9 L448.0 318.0 L448.5 315.6 L449.0 315.6 L449.5 316.1 L450.0 318.4 L450.5 317.9 L451.0 316.3 L451.5 318.2 L452.0 316.1 L452.5 314.9 L453.0 317.7 L453.5 315.5 L454.0 316.0 L454.5 317.2 L455.0 314.9 L455.5 314.5 L456.0 317.2 L456.5 318.4 L457.0 319.1 L457.5 319.3 L458.0 318.5 L458.5 319.9 L459.0 320.2 L459.5 319.9 L460.0 320.2" fill="none" stroke="#bdbdbd" stroke-width="0.6"/><path d="M292.8 320.2 L293.6 320.1 L294.4 319.1 L295.2 319.6 L296.0 319.6 L296.8 318.1 L297.6 318.3 L298.4 319.1 L299.2 319.5 L300.0 316.9 L300.8 316.8 L301.6 315.7 L302.4 314.9 L303.2 313.9 L304.0 317.3 L304.8 318.4 L305.6 311.8 L306.4 315.0 L307.2 309.7 L308.0 310.2 L308.8 309.3 L309.6 309.7 L310.4 311.9 L311.2 308.3 L312.0 307.3 L312.8 306.6 L313.6 302.5 L314.4 306.1 L315.2 305.4 L316.0 300.6 L316.8 305.2 L317.6 306.3 L318.4 305.3 L319.2 305.9 L320.0 305.2 L320.8 300.7 L321.6 296.5 L322.4 296.7 L323.2 301.7 L324.0 298.5 L324.8 294.9 L325.6 295.9 L326.4 291.0 L327.2 289.5 L328.0 284.1 L328.8 279.5 L329.6 278.8 L330.4 285.8 L331.2 286.5 L332.0 275.4 L332.8 268.6 L333.6 271.5 L334.4 258.3 L335.2 273.0 L336.0 266.0 L336.8 258.7 L337.6 260.0 L338.4 253.2 L339.2 245.8 L340.0 241.1 L340.8 244.3 L341.6 246.0 L342.4 249.2 L343.2 241.1 L344.0 246.3 L344.8 251.4 L345.6 244.8 L346.4 254.6 L347.2 248.1 L348.0 247.2 L348.8 251.4 L349.6 253.9 L350.4 258.6 L351.2 258.4 L352.0 257.6 L352.8 264.4 L353.6 263.0 L354.4 264.5 L355.2 272.4 L356.0 276.0 L356.8 280.6 L357.6 286.3 L358.4 294.8 L359.2 292.0 L360.0 295.4 L360.8 298.0 L361.6 303.2 L362.4 302.0 L363.2 306.4 L364.0 306.9 L364.8 311.9 L365.6 316.3 L366.4 316.4 L367.2 314.7 L368.0 317.4 L368.8 315.8 L369.6 317.8 L370.4 317.5 L371.2 317.5 L372.0 318.8 L372.8 317.7 L373.6 317.5 L374.4 318.8 L375.2 318.8 L376.0 319.0 L376.8 318.4 L377.6 318.2 L378.4 319.3 L379.2 319.2 L380.0 318.5 L380.8 318.9 L381.6 318.2 L382.4 319.2 L383.2 319.6 L384.0 319.9 L384.8 319.7 L385.6 320.0 L386.4 318.5 L387.2 317.2 L388.0 319.0 L388.8 318.6 L389.6 318.3 L390.4 317.0 L391.2 314.6 L392.0 309.4 L392.8 303.7 L393.6 300.0 L394.4 296.9 L395.2 295.5 L396.0 286.8 L396.8 288.2 L397.6 303.3 L398.4 306.0 L399.2 311.5 L400.0 312.5 L400.8 313.8 L401.6 317.5 L402.4 316.6 L403.2 313.7 L404.0 313.3 L404.8 315.2 L405.6 312.6 L406.4 311.1 L407.2 308.3 L408.0 306.7 L408.8 302.3 L409.6 304.6 L410.4 306.5 L411.2 312.7 L412.0 306.3 L412.8 309.6 L413.6 310.3 L414.4 305.3 L415.2 306.2 L416.0 308.0 L416.8 308.3 L417.6 310.0 L418.4 309.6 L419.2 312.6 L420.0 310.3 L420.8 308.9 L421.6 306.9 L422.4 307.6 L423.2 310.6 L424.0 312.8 L424.8 313.8 L425.6 311.5 L426.4 312.5 L427.2 308.9 L428.0 311.4 L428.8 311.3 L429.6 310.7 L430.4 312.3 L431.2 313.9 L432.0 313.2 L432.8 312.2 L433.6 314.0 L434.4 313.3 L435.2 312.6 L436.0 315.3 L436.8 313.9 L437.6 313.0 L438.4 314.5 L439.2 312.0 L440.0 312.1 L440.8 316.1 L441.6 314.9 L442.4 314.4 L443.2 315.9 L444.0 315.6 L444.8 315.9 L445.6 317.9 L446.4 316.4 L447.2 318.1 L448.0 319.3 L448.8 317.2 L449.6 317.9 L450.4 317.4 L451.2 316.6 L452.0 316.4 L452.8 317.4 L453.6 318.0 L454.4 317.6 L455.2 315.6 L456.0 318.0 L456.8 318.1 L457.6 318.5 L458.4 319.6 L459.2 318.4 L460.0 319.7 L460.8 319.4 L461.6 319.3 L462.4 319.7 L463.2 319.3 L464.0 319.1 L464.8 318.5 L465.6 318.9 L466.4 319.7 L467.2 319.4 L468.0 319.1 L468.8 319.6 L469.6 319.8 L470.4 319.6 L471.2 320.0 L472.0 319.6 L472.8 319.8 L473.6 319.2 L474.4 319.7 L475.2 320.1 L476.0 319.5 L476.8 319.8 L477.6 320.1 L478.4 319.7 L479.2 320.1 L480.0 320.2 L480.8 320.2 L481.6 319.5 L482.4 319.4 L483.2 320.0 L484.0 319.8 L484.8 320.2 L485.6 319.7 L486.4 320.0 L487.2 319.9 L488.0 320.1 L488.8 320.0 L489.6 320.2 L490.4 320.0 L491.2 320.2 L492.0 320.1 L492.8 319.9 L493.6 320.2 L494.4 320.0 L495.2 320.1 L496.0 320.2 L496.8 320.2" fill="none" stroke="#111" stroke-width="1.5"/><path d="M304.6 313.6V314.1M305.6 313.3V315.4M306.3 311.8V312.5M307.2 311.0V311.7M308.1 310.9V312.4M314.4 306.2V310.4M319.3 303.0V304.7M320.9 301.4V304.2M323.1 295.2V298.5M327.0 287.8V289.9M331.0 282.4V286.8M339.1 247.7V252.1M343.1 250.4V260.5M344.9 245.3V252.5M347.4 243.8V249.8M348.1 252.0V259.8M348.6 247.7V253.6M351.3 258.4V276.9M351.9 259.9V267.7M353.4 266.2V282.4M355.3 274.2V275.3M356.9 280.1V283.4M362.5 302.6V304.9M364.7 311.0V311.6M365.7 312.2V313.2M367.4 314.7V315.4M368.1 316.0V317.3M391.0 312.4V313.5M392.7 304.8V306.7M394.6 295.5V302.9M396.7 293.1V301.2M398.4 304.0V306.1M403.8 315.2V315.9M404.6 314.4V315.9M409.5 305.9V310.0M410.5 308.0V310.7M411.1 309.7V312.9M414.5 307.2V310.3M418.3 311.3V312.6M419.9 310.1V312.9M421.8 307.5V309.1M422.4 310.1V311.2M425.7 312.9V315.1M433.0 313.1V315.1M439.3 311.9V312.9M444.0 315.5V316.0" stroke="#151515" stroke-width="0.9" fill="none"/>
<path d="M129.3 50 H212.6" stroke="#000" stroke-width="2"/><path d="M113.8 50 L130.3 44 V56 Z M228.1 50 L211.6 44 V56 Z" fill="#000"/>
<path d="M377.5 50 H460.8" stroke="#000" stroke-width="2"/><path d="M362 50 L378.5 44 V56 Z M476.3 50 L459.8 44 V56 Z" fill="#000"/>
<path d="M149.5 253.1 H233.3" stroke="#000" stroke-width="2"/><path d="M134 253.1 L150.5 247.1 V259.1 Z M248.8 253.1 L232.3 247.1 V259.1 Z" fill="#000"/>
<path d="M390.2 253.6 H475.5" stroke="#000" stroke-width="2"/><path d="M374.7 253.6 L391.2 247.6 V259.6 Z M491 253.6 L474.5 247.6 V259.6 Z" fill="#000"/>
<text x="20.5" y="22.1" font-family="'Liberation Serif', serif" font-size="29.5" text-anchor="start" stroke="#000" stroke-width="0.25">A</text>
<text x="260.5" y="25.1" font-family="'Liberation Serif', serif" font-size="29.5" text-anchor="start" stroke="#000" stroke-width="0.25">B</text>
<text x="22.5" y="204.4" font-family="'Liberation Serif', serif" font-size="29.5" text-anchor="start" stroke="#000" stroke-width="0.25">C</text>
<text x="267.5" y="204.4" font-family="'Liberation Serif', serif" font-size="29.5" text-anchor="start" stroke="#000" stroke-width="0.25">D</text>
<text x="2.5" y="421.5" font-family="'Liberation Serif', serif" font-size="29.5" text-anchor="start" stroke="#000" stroke-width="0.25">E</text>
<text x="75.3" y="41.9" class="s" font-family="'Liberation Serif', serif" font-size="15" text-anchor="start" >1.3</text>
<text x="152" y="41.8" class="s" font-family="'Liberation Serif', serif" font-size="15" text-anchor="start" >53.4</text>
<text x="330.5" y="45.9" class="s" font-family="'Liberation Serif', serif" font-size="15" text-anchor="start" >0.5</text>
<text x="402.5" y="42.5" class="s" font-family="'Liberation Serif', serif" font-size="15" text-anchor="start" >0.5</text>
<text x="79.4" y="225.4" class="s" font-family="'Liberation Serif', serif" font-size="15" text-anchor="start" >7.6</text>
<text x="172" y="246.4" class="s" font-family="'Liberation Serif', serif" font-size="15" text-anchor="start" >51.5</text>
<text x="330" y="233" class="s" font-family="'Liberation Serif', serif" font-size="15.3" text-anchor="start" >13.3</text>
<text x="410" y="246" class="s" font-family="'Liberation Serif', serif" font-size="15" text-anchor="start" >22.8</text>
<text class="s" transform="translate(38.9 145.5) rotate(-90)" font-family="'Liberation Serif', serif" font-size="14.5" letter-spacing="1.3">Endocytosis</text>
<text class="s" transform="translate(38.9 322) rotate(-90)" font-family="'Liberation Serif', serif" font-size="14.5" letter-spacing="1.35">Phagocytosis</text>
<text x="106.5" y="348" class="s" font-family="'Liberation Serif', serif" font-size="14.5" text-anchor="start" >FITC-density</text>
<text x="349.7" y="345.5" class="s" font-family="'Liberation Serif', serif" font-size="14.5" text-anchor="start" >FITC-density</text>
<path d="M100 402.5 H343.3 V654.2 H100 Z" fill="none" stroke="#000" stroke-width="1.6"/>
<path d="M93.2 654.2 H100 M93.2 570.4 H100 M93.2 486.5 H100 M93.2 402.7 H100 M100.0 654.2 V661.3 M181.4 654.2 V661.3 M261.6 654.2 V661.3 M343.3 654.2 V661.3" stroke="#000" stroke-width="1.6"/>
<text x="89.2" y="660.0" font-family="'Liberation Sans', sans-serif" font-size="12.5" text-anchor="end" >0</text>
<text x="89.2" y="576.1" font-family="'Liberation Sans', sans-serif" font-size="12.5" text-anchor="end" >0.5</text>
<text x="89.2" y="492.3" font-family="'Liberation Sans', sans-serif" font-size="12.5" text-anchor="end" >1</text>
<text x="89.2" y="408.5" font-family="'Liberation Sans', sans-serif" font-size="12.5" text-anchor="end" >1.5</text>
<text x="98.5" y="677.7" font-family="'Liberation Sans', sans-serif" font-size="12.5" text-anchor="middle" >1</text>
<text x="180.4" y="677.7" font-family="'Liberation Sans', sans-serif" font-size="12.5" text-anchor="middle" >10</text>
<text x="260.4" y="677.7" font-family="'Liberation Sans', sans-serif" font-size="12.5" text-anchor="middle" >100</text>
<text x="342.8" y="677.7" font-family="'Liberation Sans', sans-serif" font-size="12.5" text-anchor="middle" >1000</text>
<text x="168.3" y="696.4" class="s" font-family="'Liberation Serif', serif" font-size="14.35" text-anchor="start" >Stimulators ( x 100 )</text>
<text class="s" transform="translate(58.8 609.2) rotate(-90)" font-family="'Liberation Serif', serif" font-size="14.5">OD550 nM ( MTT assay )</text>
<path d="M100.0 645.0 L138.8 645.0 L181.4 640.4 L219.1 617.0 L261.6 475.9 L300.5 463.2" fill="none" stroke="#000" stroke-width="1.8"/>
<path d="M100.0 646.8 L138.8 646.8 L181.4 645.8 L219.1 643.3 L261.6 629.7 L300.5 585.4" fill="none" stroke="#000" stroke-width="1.8"/>
<path d="M300.5 454.2 V463.2 M300.5 472.0 V463.2 M296.5 454.2 h8 M296.5 472.0 h8" stroke="#000" stroke-width="1.6"/>
<path d="M300.5 568.7 V585.4 M300.5 601.6 V585.4 M296.5 568.7 h8 M296.5 601.6 h8" stroke="#000" stroke-width="1.6"/>
<path d="M138.8 641.0 l4 4 l-4 4 l-4 -4 Z" fill="#fff" stroke="#000" stroke-width="1.6"/>
<path d="M181.4 636.4 l4 4 l-4 4 l-4 -4 Z" fill="#fff" stroke="#000" stroke-width="1.6"/>
<path d="M219.1 613.0 l4 4 l-4 4 l-4 -4 Z" fill="#fff" stroke="#000" stroke-width="1.6"/>
<path d="M261.6 471.9 l4 4 l-4 4 l-4 -4 Z" fill="#fff" stroke="#000" stroke-width="1.6"/>
<path d="M300.5 459.2 l4 4 l-4 4 l-4 -4 Z" fill="#fff" stroke="#000" stroke-width="1.6"/>
<rect x="135.2" y="643.2" width="7.2" height="7.2" fill="#fff" stroke="#000" stroke-width="1.6"/>
<rect x="177.8" y="642.2" width="7.2" height="7.2" fill="#fff" stroke="#000" stroke-width="1.6"/>
<rect x="215.5" y="639.7" width="7.2" height="7.2" fill="#fff" stroke="#000" stroke-width="1.6"/>
<rect x="258.0" y="626.1" width="7.2" height="7.2" fill="#fff" stroke="#000" stroke-width="1.6"/>
<rect x="296.9" y="581.8" width="7.2" height="7.2" fill="#fff" stroke="#000" stroke-width="1.6"/>
<rect x="357.6" y="411.2" width="7.2" height="7.2" fill="#fff" stroke="#000" stroke-width="1.6"/>
<path d="M362.4 453.6 l5.6 5.6 l-5.6 5.6 l-5.6 -5.6 Z" fill="#fff" stroke="#000" stroke-width="1.6"/>
<text x="375" y="418.7" class="s" font-family="'Liberation Serif', serif" font-size="14.5" text-anchor="start" >TGF-β1-induced</text>
<text x="375" y="436" class="s" font-family="'Liberation Serif', serif" font-size="14.5" text-anchor="start" >monocytes/macrophages</text>
<text x="371.5" y="464" class="s" font-family="'Liberation Serif', serif" font-size="14.5" text-anchor="start" >Mature DCs&#160; derived</text>
<text x="375.5" y="483.6" class="s" font-family="'Liberation Serif', serif" font-size="14.5" text-anchor="start" >from TGF-β1-induced</text>
<text x="371.5" y="502.2" class="s" font-family="'Liberation Serif', serif" font-size="14.5" text-anchor="start" letter-spacing="0.13">monocytes/macrophages</text>
</svg>
</body></html>
